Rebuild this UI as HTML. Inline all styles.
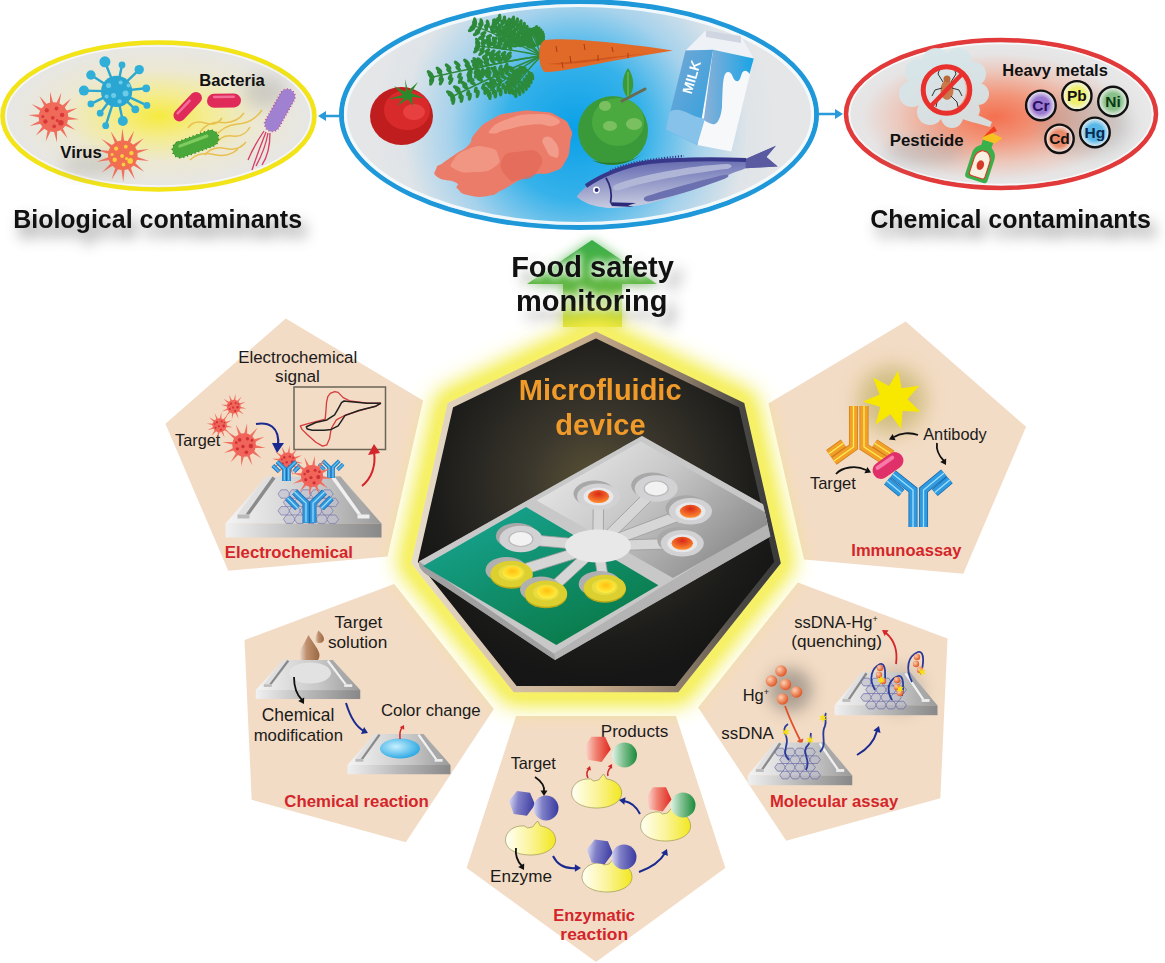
<!DOCTYPE html>
<html><head><meta charset="utf-8">
<style>
html,body{margin:0;padding:0;background:#fff;width:1165px;height:963px;overflow:hidden}
svg{display:block}
text{font-family:"Liberation Sans",sans-serif}
.b{font-weight:bold}
.t{font-size:15.5px;fill:#1a1a1a;text-anchor:middle}
.r{font-size:15px;font-weight:bold;fill:#d4252a;text-anchor:middle}
</style></head><body>
<svg width="1165" height="963" viewBox="0 0 1165 963">
<defs>
 <radialGradient id="gY" cx="0.5" cy="0.5" r="0.5">
  <stop offset="0" stop-color="#f6ea40"/><stop offset="0.3" stop-color="#f4ec90"/><stop offset="0.62" stop-color="#ece8d2"/><stop offset="1" stop-color="#e6e6e6"/>
 </radialGradient>
 <radialGradient id="gB" gradientUnits="userSpaceOnUse" cx="575" cy="130" r="200">
  <stop offset="0" stop-color="#0aa0e8"/><stop offset="0.35" stop-color="#36b2ea"/><stop offset="0.62" stop-color="#a6d2ec"/><stop offset="0.86" stop-color="#dfe4e8"/><stop offset="1" stop-color="#e4e6e8"/></radialGradient>
 <radialGradient id="gR" cx="0.48" cy="0.52" r="0.5">
  <stop offset="0" stop-color="#f47050"/><stop offset="0.3" stop-color="#f29478"/><stop offset="0.62" stop-color="#ecc8bc"/><stop offset="0.85" stop-color="#e6e4e4"/><stop offset="1" stop-color="#e8e8e8"/>
 </radialGradient>
 <radialGradient id="gHept" cx="0.5" cy="0.42" r="0.55">
  <stop offset="0" stop-color="#5a5236"/><stop offset="0.35" stop-color="#3a362c"/><stop offset="0.8" stop-color="#1c1c1a"/><stop offset="1" stop-color="#161616"/>
 </radialGradient>
 <linearGradient id="gArrow" x1="0" y1="0" x2="0" y2="1">
  <stop offset="0" stop-color="#3aae48"/><stop offset="0.55" stop-color="#64b844"/><stop offset="1" stop-color="#dede38"/>
 </linearGradient>
 <linearGradient id="gSlabTop" x1="0" y1="0" x2="1" y2="0">
  <stop offset="0" stop-color="#f4f4f4"/><stop offset="0.6" stop-color="#c8c8c8"/><stop offset="1" stop-color="#9a9a9a"/>
 </linearGradient>
 <linearGradient id="gSlabFront" x1="0" y1="0" x2="1" y2="0">
  <stop offset="0" stop-color="#f0f0f0"/><stop offset="0.5" stop-color="#b8b8b8"/><stop offset="1" stop-color="#888"/>
 </linearGradient>
 <linearGradient id="gEnz" x1="0" y1="0" x2="1" y2="0"><stop offset="0" stop-color="#fffff6"/><stop offset="0.5" stop-color="#fbf49a"/><stop offset="1" stop-color="#f2e820"/></linearGradient>
 <radialGradient id="gBall" cx="0.35" cy="0.35" r="0.65">
  <stop offset="0" stop-color="#ffd0b0"/><stop offset="1" stop-color="#e05a2a"/>
 </radialGradient>
 <linearGradient id="gHexB" x1="0" y1="0" x2="1" y2="0"><stop offset="0" stop-color="#d8d8f4"/><stop offset="0.35" stop-color="#8080c8"/><stop offset="1" stop-color="#3a3aa0"/></linearGradient>
 <linearGradient id="gGrn" x1="0" y1="0" x2="1" y2="0"><stop offset="0" stop-color="#e0f4e8"/><stop offset="0.45" stop-color="#80c090"/><stop offset="1" stop-color="#1a8a3a"/></linearGradient>
 <linearGradient id="gRedP" x1="0" y1="0" x2="1" y2="0"><stop offset="0" stop-color="#fce0d8"/><stop offset="0.45" stop-color="#f08070"/><stop offset="1" stop-color="#e02a20"/></linearGradient>
 <radialGradient id="gBlueE" cx="0.4" cy="0.4" r="0.7"><stop offset="0" stop-color="#c8f0ff"/><stop offset="1" stop-color="#1aa0e0"/></radialGradient>
 <linearGradient id="gChipSideR" x1="0" y1="0" x2="1" y2="0"><stop offset="0" stop-color="#b8b8b8"/><stop offset="1" stop-color="#d8d8d8"/></linearGradient>
 <linearGradient id="gChipGreen" x1="0" y1="0" x2="0.7" y2="1"><stop offset="0" stop-color="#18a898"/><stop offset="1" stop-color="#0a7a48"/></linearGradient>
 <linearGradient id="gChipGray" x1="0" y1="0" x2="1" y2="0.6"><stop offset="0" stop-color="#f0f0f0"/><stop offset="0.5" stop-color="#c8c8c8"/><stop offset="1" stop-color="#8a8a8a"/></linearGradient>
 <radialGradient id="gResR" cx="0.5" cy="0.3" r="0.7"><stop offset="0" stop-color="#d82818"/><stop offset="1" stop-color="#ff9030"/></radialGradient>
 <radialGradient id="gResY" cx="0.5" cy="0.4" r="0.6"><stop offset="0" stop-color="#ffc010"/><stop offset="1" stop-color="#fff040"/></radialGradient>
 <linearGradient id="gHeptBorder" x1="0" y1="0" x2="1" y2="0"><stop offset="0" stop-color="#e6dccc"/><stop offset="0.5" stop-color="#c4a888"/><stop offset="0.75" stop-color="#8a7a68"/><stop offset="0.9" stop-color="#4a4844"/><stop offset="1" stop-color="#3a3a3a"/></linearGradient>
 <clipPath id="clipHept"><polygon points="596,336 740.5,405.6 776.3,562.2 676.2,687.6 515.8,687.6 415.7,562.2 451.5,405.6"/></clipPath>
 <radialGradient id="gm_Cr" cx="0.5" cy="0.5" r="0.5"><stop offset="0" stop-color="#9a78d0"/><stop offset="0.55" stop-color="#9a78d0"/><stop offset="1" stop-color="#f4f4f4"/></radialGradient>
 <radialGradient id="gm_Pb" cx="0.5" cy="0.5" r="0.5"><stop offset="0" stop-color="#f0f070"/><stop offset="0.55" stop-color="#f0f070"/><stop offset="1" stop-color="#f4f4f4"/></radialGradient>
 <radialGradient id="gm_Ni" cx="0.5" cy="0.5" r="0.5"><stop offset="0" stop-color="#8ac08a"/><stop offset="0.55" stop-color="#8ac08a"/><stop offset="1" stop-color="#f4f4f4"/></radialGradient>
 <radialGradient id="gm_Cd" cx="0.5" cy="0.5" r="0.5"><stop offset="0" stop-color="#e88a6a"/><stop offset="0.55" stop-color="#e88a6a"/><stop offset="1" stop-color="#f4f4f4"/></radialGradient>
 <radialGradient id="gm_Hg" cx="0.5" cy="0.5" r="0.5"><stop offset="0" stop-color="#5ab8e8"/><stop offset="0.55" stop-color="#5ab8e8"/><stop offset="1" stop-color="#f4f4f4"/></radialGradient>
 <filter id="blur5" x="-50%" y="-50%" width="200%" height="200%"><feGaussianBlur stdDeviation="5"/></filter>
 <filter id="blur7" x="-50%" y="-50%" width="200%" height="200%"><feGaussianBlur stdDeviation="7"/></filter>
 <filter id="blur10" x="-50%" y="-50%" width="200%" height="200%"><feGaussianBlur stdDeviation="10"/></filter>
 <filter id="blur4" x="-50%" y="-50%" width="200%" height="200%"><feGaussianBlur stdDeviation="4"/></filter>
 <linearGradient id="gMilkL" x1="0" y1="0" x2="1" y2="1"><stop offset="0" stop-color="#7aa8d4"/><stop offset="1" stop-color="#2aa0e0"/></linearGradient>
 <linearGradient id="gMilkR" x1="0" y1="0" x2="1" y2="0"><stop offset="0" stop-color="#8ab0d8"/><stop offset="1" stop-color="#18a4e6"/></linearGradient>
 <linearGradient id="gFish" x1="0" y1="0" x2="0.15" y2="1"><stop offset="0" stop-color="#3e3e90"/><stop offset="0.45" stop-color="#7a80bc"/><stop offset="1" stop-color="#c8cce0"/></linearGradient>
 <linearGradient id="gDrop" x1="0" y1="0" x2="1" y2="0"><stop offset="0" stop-color="#ecdccc"/><stop offset="0.35" stop-color="#c09070"/><stop offset="1" stop-color="#9a6840"/></linearGradient>
 <filter id="blur6" x="-50%" y="-50%" width="200%" height="200%"><feGaussianBlur stdDeviation="6"/></filter>
 <filter id="blur12" x="-50%" y="-50%" width="200%" height="200%"><feGaussianBlur stdDeviation="12"/></filter>
 <filter id="blur3" x="-50%" y="-50%" width="200%" height="200%"><feGaussianBlur stdDeviation="3"/></filter>
 <filter id="blur8" x="-50%" y="-50%" width="200%" height="200%"><feGaussianBlur stdDeviation="8"/></filter>
 <polygon id="pent" points="0,-136 129.34,-42.03 79.94,110.03 -79.94,110.03 -129.34,-42.03"/>
 <!-- red spiky virus, body r=10 -->
 <g id="vir">
  <path fill="#ef7260" d="M9.0,-0.2 L19.3,2.7 L8.6,2.7ZM7.9,4.3 L15.4,12.0 L6.1,6.6ZM4.7,7.7 L7.3,18.1 L2.0,8.8ZM0.2,9.0 L-2.7,19.3 L-2.7,8.6ZM-4.3,7.9 L-12.0,15.4 L-6.6,6.1ZM-7.7,4.7 L-18.1,7.3 L-8.8,2.0ZM-9.0,0.2 L-19.3,-2.7 L-8.6,-2.7ZM-7.9,-4.3 L-15.4,-12.0 L-6.1,-6.6ZM-4.7,-7.7 L-7.3,-18.1 L-2.0,-8.8ZM-0.2,-9.0 L2.7,-19.3 L2.7,-8.6ZM4.3,-7.9 L12.0,-15.4 L6.6,-6.1ZM7.7,-4.7 L18.1,-7.3 L8.8,-2.0Z"/>
  <circle r="10.5" fill="#f0645a"/>
  <g fill="#cf3236"><circle cx="-4" cy="-4.5" r="1.7"/><circle cx="3" cy="-5.5" r="1.5"/><circle cx="6" cy="1" r="2"/><circle cx="-1" cy="1.5" r="1.6"/><circle cx="-6" cy="3.5" r="1.5"/><circle cx="2" cy="6.5" r="1.6"/><circle cx="-7" cy="-2" r="1.2"/><circle cx="7" cy="-4" r="1.2"/></g>
 </g>
 <!-- antibody Y, stem bottom at 0,0 -->
 <g id="ab">
  <g stroke-linecap="butt" fill="none">
   <path d="M-3.5,0 V-20 L-15,-31 M3.5,0 V-20 L15,-31" stroke="#1a6ab0" stroke-width="7"/>
   <path d="M-3.5,0 V-20 L-15,-31 M3.5,0 V-20 L15,-31" stroke="#2f9ae0" stroke-width="5.5"/>
   <path d="M-22,-25 L-12,-15 M22,-25 L12,-15" stroke="#1a6ab0" stroke-width="6.5"/>
   <path d="M-22,-25 L-12,-15 M22,-25 L12,-15" stroke="#2f9ae0" stroke-width="5"/>
   <path d="M-3.5,-1 V-20 L-15,-31 M3.5,-1 V-20 L15,-31 M-22,-25 L-12,-15 M22,-25 L12,-15" stroke="#9adcf8" stroke-width="1.2"/>
  </g>
 </g>
 <g id="abO">
  <g stroke-linecap="butt" fill="none">
   <path d="M-3.5,0 V-20 L-15,-31 M3.5,0 V-20 L15,-31" stroke="#c8701a" stroke-width="7"/>
   <path d="M-3.5,0 V-20 L-15,-31 M3.5,0 V-20 L15,-31" stroke="#f0a030" stroke-width="5.5"/>
   <path d="M-22,-25 L-12,-15 M22,-25 L12,-15" stroke="#c8701a" stroke-width="6.5"/>
   <path d="M-22,-25 L-12,-15 M22,-25 L12,-15" stroke="#f0a030" stroke-width="5"/>
   <path d="M-3.5,-1 V-20 L-15,-31 M3.5,-1 V-20 L15,-31 M-22,-25 L-12,-15 M22,-25 L12,-15" stroke="#fff060" stroke-width="1.3"/>
  </g>
 </g>
 <!-- slab: width 155 bottom, top face -->
 <g id="slab">
  <polygon points="-37,0 37,0 78,47 -78,47" fill="url(#gSlabTop)"/>
  <rect x="-78" y="47" width="156" height="14" fill="url(#gSlabFront)"/>
  <polygon points="-37,0 -31,0 -58,38 -66,38" fill="#e0e0e0"/>
  <polygon points="-31,0 -28,2 -54,38 -58,38" fill="#8a8a8a"/>
  <rect x="-66" y="38" width="12" height="4" fill="#bbb"/>
  <polygon points="31,0 37,0 66,38 58,38" fill="#a8a8a8"/>
  <polygon points="28,2 31,0 58,38 54,38" fill="#f0f0f0"/>
  <rect x="54" y="38" width="12" height="4" fill="#eee"/>
 </g>
 <!-- enzyme -->
 <path id="enz" d="M-6,-14 C-16,-15 -25,-9 -25,0 C-25,9 -14,15 0,15 C14,15 25,9 25,0 C25,-8 18,-13 10,-14 L7,-19 L2,-13 L-3,-12 Z" fill="url(#gEnz)" stroke="#8a8a40" stroke-width="0.6"/>
 <polygon id="hexB" points="-12,-2 -6,-12 6,-12 12,-2 6,9 -6,9" fill="url(#gHexB)" transform="rotate(8)"/>
 <polygon id="hexR" points="-11,-3 -5,-12 7,-12 12,-1 4,10 -8,8" fill="url(#gRedP)"/>
 <circle id="cirB" r="12.5" fill="url(#gHexB)"/>
 <circle id="cirG" r="12.5" fill="url(#gGrn)"/>
 <marker id="mk" viewBox="0 0 10 10" refX="5" refY="5" markerWidth="4" markerHeight="4" orient="auto"><path d="M0,0 L10,5 L0,10 L3,5 Z" fill="context-stroke"/></marker>
</defs>

<!-- ===== TOP ELLIPSES ===== -->
<g id="top">
 <ellipse cx="158.5" cy="116" rx="156" ry="73.5" fill="url(#gY)" stroke="#f2e416" stroke-width="4.5"/>
 <ellipse cx="158.5" cy="116" rx="152.5" ry="70" fill="none" stroke="#fff" stroke-width="1.5" opacity="0.7"/>
 <ellipse cx="579" cy="114.5" rx="237.5" ry="113" fill="url(#gB)" stroke="#1f98da" stroke-width="5"/>
 <ellipse cx="1001" cy="114" rx="155" ry="74" fill="url(#gR)" stroke="#e23a3a" stroke-width="4.5"/>
 <ellipse cx="1001" cy="114" rx="151.5" ry="70.5" fill="none" stroke="#fff" stroke-width="1.5" opacity="0.7"/>
 <g stroke="#2a9ad8" stroke-width="2.5" fill="#2a9ad8">
  <line x1="340" y1="116" x2="322" y2="116"/>
  <polygon points="318,116 326,111 326,121" stroke="none"/>
  <line x1="819" y1="114" x2="838" y2="114"/>
  <polygon points="843,114 835,109 835,119" stroke="none"/>
 </g>
 <g filter="url(#blur7)" opacity="0.8" fill="#7a7a7a">
  <text x="163" y="229" class="b" font-size="25" text-anchor="middle" transform="translate(0,-25) scale(1,1.15)">Biological contaminants</text>
  <text x="1016" y="229" class="b" font-size="25" text-anchor="middle" transform="translate(0,-25) scale(1,1.15)">Chemical contaminants</text>
 </g>
 <text x="157.6" y="228" class="b" font-size="25" text-anchor="middle" fill="#111">Biological contaminants</text>
 <text x="1010.5" y="228" class="b" font-size="25" text-anchor="middle" fill="#111">Chemical contaminants</text>
</g>

<!-- TOPLEFT CONTENT -->
<g id="bio"><ellipse cx="95" cy="165" rx="35" ry="10" fill="#999" opacity="0.35" filter="url(#blur8)"/><ellipse cx="265" cy="92" rx="22" ry="16" fill="#999" opacity="0.35" filter="url(#blur8)"/><g transform="translate(53.5,117.1)"><path d="M13.3,-0.6 L25.4,2.2 L13.0,2.9ZM12.2,5.3 L21.9,13.0 L10.5,8.2ZM8.7,10.0 L14.1,21.2 L5.9,12.0ZM3.5,12.8 L3.5,25.3 L0.1,13.3ZM-2.4,13.1 L-7.8,24.3 L-5.7,12.0ZM-7.9,10.8 L-17.6,18.5 L-10.4,8.4ZM-11.7,6.3 L-23.9,9.0 L-13.0,3.1ZM-13.3,0.6 L-25.4,-2.2 L-13.0,-2.9ZM-12.2,-5.3 L-21.9,-13.0 L-10.5,-8.2ZM-8.7,-10.0 L-14.1,-21.2 L-5.9,-12.0ZM-3.5,-12.8 L-3.5,-25.3 L-0.1,-13.3ZM2.4,-13.1 L7.8,-24.3 L5.7,-12.0ZM7.9,-10.8 L17.6,-18.5 L10.4,-8.4ZM11.7,-6.3 L23.9,-9.0 L13.0,-3.1Z" fill="#f07060"/><circle r="14.8" fill="#f06a5a"/><circle cx="-6.7" cy="-6.7" r="2.1" fill="#d83838"/><circle cx="3.0" cy="-8.6" r="1.9" fill="#d83838"/><circle cx="8.6" cy="-2.2" r="2.2" fill="#d83838"/><circle cx="7.4" cy="5.6" r="2.8" fill="#d83838"/><circle cx="-0.7" cy="0.7" r="1.9" fill="#d83838"/><circle cx="-8.1" cy="4.4" r="2.2" fill="#d83838"/><circle cx="0.7" cy="9.2" r="1.9" fill="#d83838"/><circle cx="3.7" cy="3.3" r="1.5" fill="#d83838"/><circle cx="-10.7" cy="-0.7" r="1.5" fill="#d83838"/></g><g transform="translate(122.8,155.3)"><path d="M13.3,1.1 L26.4,5.6 L12.6,4.4ZM11.5,6.7 L21.4,16.5 L9.4,9.4ZM7.5,11.0 L12.1,24.1 L4.4,12.6ZM1.9,13.2 L0.4,27.0 L-1.5,13.2ZM-4.0,12.7 L-11.3,24.5 L-7.1,11.3ZM-9.1,9.7 L-20.9,17.1 L-11.3,7.1ZM-12.4,4.8 L-26.2,6.4 L-13.2,1.5ZM-13.3,-1.1 L-26.4,-5.6 L-12.6,-4.4ZM-11.5,-6.7 L-21.4,-16.5 L-9.4,-9.4ZM-7.5,-11.0 L-12.1,-24.1 L-4.4,-12.6ZM-1.9,-13.2 L-0.4,-27.0 L1.5,-13.2ZM4.0,-12.7 L11.3,-24.5 L7.1,-11.3ZM9.1,-9.7 L20.9,-17.1 L11.3,-7.1ZM12.4,-4.8 L26.2,-6.4 L13.2,-1.5Z" fill="#f07060"/><circle r="14.8" fill="#f26e50"/><circle cx="-6.7" cy="-6.7" r="2.1" fill="#f8d040"/><circle cx="3.0" cy="-8.6" r="1.9" fill="#f8d040"/><circle cx="8.6" cy="-2.2" r="2.2" fill="#f8d040"/><circle cx="7.4" cy="5.6" r="2.8" fill="#f8d040"/><circle cx="-0.7" cy="0.7" r="1.9" fill="#f8d040"/><circle cx="-8.1" cy="4.4" r="2.2" fill="#f8d040"/><circle cx="0.7" cy="9.2" r="1.9" fill="#f8d040"/><circle cx="3.7" cy="3.3" r="1.5" fill="#f8d040"/><circle cx="-10.7" cy="-0.7" r="1.5" fill="#f8d040"/></g><line x1="116.6" y1="91.4" x2="104.9" y2="61.8" stroke="#2aa8d0" stroke-width="2.4"/><circle cx="104.9" cy="61.8" r="5.5" fill="#30b0d8"/><line x1="116.6" y1="91.4" x2="122.0" y2="64.9" stroke="#2aa8d0" stroke-width="2.4"/><circle cx="122.0" cy="64.9" r="3.4" fill="#30b0d8"/><line x1="116.6" y1="91.4" x2="139.2" y2="69.6" stroke="#2aa8d0" stroke-width="2.4"/><circle cx="139.2" cy="69.6" r="4.7" fill="#30b0d8"/><line x1="116.6" y1="91.4" x2="90.9" y2="75.0" stroke="#2aa8d0" stroke-width="2.4"/><circle cx="90.9" cy="75.0" r="4.7" fill="#30b0d8"/><line x1="116.6" y1="91.4" x2="146.2" y2="88.3" stroke="#2aa8d0" stroke-width="2.4"/><circle cx="146.2" cy="88.3" r="3.9" fill="#30b0d8"/><line x1="116.6" y1="91.4" x2="83.9" y2="90.6" stroke="#2aa8d0" stroke-width="2.4"/><circle cx="83.9" cy="90.6" r="5.0" fill="#30b0d8"/><line x1="116.6" y1="91.4" x2="146.9" y2="105.4" stroke="#2aa8d0" stroke-width="2.4"/><circle cx="146.9" cy="105.4" r="3.4" fill="#30b0d8"/><line x1="116.6" y1="91.4" x2="90.9" y2="103.9" stroke="#2aa8d0" stroke-width="2.4"/><circle cx="90.9" cy="103.9" r="3.4" fill="#30b0d8"/><line x1="116.6" y1="91.4" x2="135.3" y2="109.3" stroke="#2aa8d0" stroke-width="2.4"/><circle cx="135.3" cy="109.3" r="3.9" fill="#30b0d8"/><line x1="116.6" y1="91.4" x2="100.2" y2="113.2" stroke="#2aa8d0" stroke-width="2.4"/><circle cx="100.2" cy="113.2" r="3.4" fill="#30b0d8"/><line x1="116.6" y1="91.4" x2="122.8" y2="121.0" stroke="#2aa8d0" stroke-width="2.4"/><circle cx="122.8" cy="121.0" r="5.0" fill="#30b0d8"/><line x1="116.6" y1="91.4" x2="105.7" y2="125.7" stroke="#2aa8d0" stroke-width="2.4"/><circle cx="105.7" cy="125.7" r="3.4" fill="#30b0d8"/><circle cx="116.6" cy="91.4" r="15.6" fill="#2aa6d2"/><circle cx="108.6" cy="85.4" r="2.5" fill="#6ccce8"/><circle cx="120.6" cy="82.4" r="2" fill="#6ccce8"/><circle cx="125.6" cy="93.4" r="3" fill="#6ccce8"/><circle cx="113.6" cy="95.4" r="2.5" fill="#6ccce8"/><circle cx="106.6" cy="96.4" r="2" fill="#6ccce8"/><circle cx="119.6" cy="101.4" r="2.2" fill="#6ccce8"/><circle cx="128.6" cy="85.4" r="2" fill="#6ccce8"/><text x="81.1" y="157.5" style="font-size:16.72px" class="b" text-anchor="middle" fill="#111">Virus</text><text x="232.0" y="86.3" style="font-size:16.59px" class="b" text-anchor="middle" fill="#111">Bacteria</text><g transform="translate(187.7,106.7) rotate(-46.6)"><rect x="-18" y="-6" width="36" height="12" rx="6" fill="#e02a5a"/><rect x="-13" y="-4" width="20" height="2.5" rx="1.2" fill="#f07098"/></g><g transform="translate(224,100.6) rotate(-1)"><rect x="-17" y="-7" width="34" height="14" rx="7" fill="#e02a5a"/><rect x="-11" y="-5" width="22" height="2.5" rx="1.2" fill="#f07098"/></g><g fill="none" stroke="#e8c050" stroke-width="1.5"><path d="M188,128 Q193.5,119.5 205.0,123.0 T222,118" /><path d="M200,132 Q208.0,121.25 222.0,122.5 T244,113" /><path d="M214,138 Q223.0,125.0 238.0,124.0 T262,110" /><path d="M215,145 Q220.75,134.5 232.5,136.0 T250,127" /><path d="M205,155 Q212.25,145.75 225.5,148.5 T246,142" /><path d="M190,160 Q199.0,151.25 214.0,154.5 T238,149" /></g><g transform="translate(195.5,144) rotate(-20.5)"><rect x="-24" y="-8" width="48" height="16" rx="8" fill="#3a9a30" stroke="#2a7a20" stroke-width="2" stroke-dasharray="1.2 2.8"/><rect x="-24" y="-8" width="48" height="16" rx="8" fill="#4aa83a"/><rect x="-17" y="-5" width="32" height="3" rx="1.5" fill="#80cc60"/></g><g fill="none" stroke="#d83a6a" stroke-width="1.3"><path d="M266,132 C262,142 258,152 252,170"/><path d="M268,133 C266,145 262,155 256,166"/><path d="M270,133 C270,146 268,156 262,165"/><path d="M264,131 C258,140 252,150 248,160"/></g><g transform="translate(279.8,110.3) rotate(-60.8)"><rect x="-23" y="-7.5" width="46" height="15" rx="7.5" fill="#9a7ad0" stroke="#c84a8a" stroke-width="2" stroke-dasharray="1 2.2"/><rect x="-23" y="-7" width="46" height="14" rx="7" fill="#a080d0"/></g></g>
<!-- TOPCENTER CONTENT -->
<g id="food"><ellipse cx="579" cy="114.5" rx="233.5" ry="109" fill="none" stroke="#f4fafc" stroke-width="3.2" opacity="0.95"/><ellipse cx="401.5" cy="116" rx="31.5" ry="29" fill="#c01e1e"/><ellipse cx="407" cy="110" rx="23" ry="20" fill="#d82a2a"/><ellipse cx="414" cy="112" rx="11" ry="8" fill="#e84040"/><path d="M405,79 L406,92 L394,86 L403,95 L388,99 L404,98 L397,106 L408,99 L413,106 L412,97 L424,98 L411,93 L418,82 L408,91 Z" fill="#2a8a2a"/><path d="M541.4,55.7 Q507.7,38.7 474,25.6" fill="none" stroke="#2e8a3a" stroke-width="1.5"/><path d="M541.4,55.7 Q518.0,36.2 494.5,20.8" fill="none" stroke="#2e8a3a" stroke-width="1.5"/><path d="M541.4,55.7 Q535.7,40.9 530,30" fill="none" stroke="#2e8a3a" stroke-width="1.5"/><path d="M541.4,55.7 Q486.7,64.5 432,77.3" fill="none" stroke="#2e8a3a" stroke-width="1.5"/><path d="M541.4,55.7 Q496.9,74.1 452.5,96.5" fill="none" stroke="#2e8a3a" stroke-width="1.5"/><path d="M541.4,55.7 Q525.7,71.8 510,92" fill="none" stroke="#2e8a3a" stroke-width="1.5"/><path d="M541.4,55.7 Q509.5,48.9 477.7,46" fill="none" stroke="#2e8a3a" stroke-width="1.5"/><path d="M541.4,55.7 Q524.7,36.9 508,22" fill="none" stroke="#2e8a3a" stroke-width="1.5"/><path d="M541.4,55.7 Q505.7,60.9 470,70" fill="none" stroke="#2e8a3a" stroke-width="1.5"/><path d="M541.4,55.7 Q514.7,71.8 488,92" fill="none" stroke="#2e8a3a" stroke-width="1.5"/><g fill="#2c8a3a"><ellipse cx="506.4" cy="43.6" rx="3.3" ry="1.9" transform="rotate(-211 506.4 43.6)"/><ellipse cx="504.8" cy="47.2" rx="4.2" ry="1.9" transform="rotate(-211 504.8 47.2)"/><ellipse cx="509.0" cy="37.7" rx="3.3" ry="1.9" transform="rotate(-101 509.0 37.7)"/><ellipse cx="510.6" cy="34.1" rx="4.2" ry="1.9" transform="rotate(-101 510.6 34.1)"/><ellipse cx="500.5" cy="41.4" rx="3.3" ry="1.9" transform="rotate(-211 500.5 41.4)"/><ellipse cx="498.6" cy="45.5" rx="4.2" ry="1.9" transform="rotate(-211 498.6 45.5)"/><ellipse cx="503.5" cy="34.7" rx="3.3" ry="1.9" transform="rotate(-101 503.5 34.7)"/><ellipse cx="505.3" cy="30.7" rx="4.2" ry="1.9" transform="rotate(-101 505.3 30.7)"/><ellipse cx="494.7" cy="39.0" rx="3.3" ry="1.9" transform="rotate(-211 494.7 39.0)"/><ellipse cx="492.8" cy="43.3" rx="4.2" ry="1.9" transform="rotate(-211 492.8 43.3)"/><ellipse cx="497.8" cy="32.0" rx="3.3" ry="1.9" transform="rotate(-101 497.8 32.0)"/><ellipse cx="499.7" cy="27.8" rx="4.2" ry="1.9" transform="rotate(-101 499.7 27.8)"/><ellipse cx="489.0" cy="36.4" rx="3.3" ry="1.9" transform="rotate(-211 489.0 36.4)"/><ellipse cx="487.2" cy="40.5" rx="4.2" ry="1.9" transform="rotate(-211 487.2 40.5)"/><ellipse cx="492.0" cy="29.6" rx="3.3" ry="1.9" transform="rotate(-101 492.0 29.6)"/><ellipse cx="493.9" cy="25.5" rx="4.2" ry="1.9" transform="rotate(-101 493.9 25.5)"/><ellipse cx="483.4" cy="33.4" rx="3.3" ry="1.9" transform="rotate(-211 483.4 33.4)"/><ellipse cx="481.8" cy="37.1" rx="4.2" ry="1.9" transform="rotate(-211 481.8 37.1)"/><ellipse cx="486.1" cy="27.4" rx="3.3" ry="1.9" transform="rotate(-101 486.1 27.4)"/><ellipse cx="487.8" cy="23.7" rx="4.2" ry="1.9" transform="rotate(-101 487.8 23.7)"/><ellipse cx="478.0" cy="30.3" rx="3.3" ry="1.9" transform="rotate(-211 478.0 30.3)"/><ellipse cx="476.6" cy="33.3" rx="4.2" ry="1.9" transform="rotate(-211 476.6 33.3)"/><ellipse cx="480.2" cy="25.4" rx="3.3" ry="1.9" transform="rotate(-101 480.2 25.4)"/><ellipse cx="481.5" cy="22.4" rx="4.2" ry="1.9" transform="rotate(-101 481.5 22.4)"/><ellipse cx="472.5" cy="27.1" rx="3.3" ry="1.9" transform="rotate(-211 472.5 27.1)"/><ellipse cx="471.6" cy="29.3" rx="4.2" ry="1.9" transform="rotate(-211 471.6 29.3)"/><ellipse cx="474.1" cy="23.5" rx="3.3" ry="1.9" transform="rotate(-101 474.1 23.5)"/><ellipse cx="475.1" cy="21.3" rx="4.2" ry="1.9" transform="rotate(-101 475.1 21.3)"/><circle cx="474.0" cy="25.6" r="2.5"/><ellipse cx="518.6" cy="42.3" rx="3.3" ry="1.9" transform="rotate(-198 518.6 42.3)"/><ellipse cx="516.5" cy="45.2" rx="4.2" ry="1.9" transform="rotate(-198 516.5 45.2)"/><ellipse cx="522.0" cy="37.7" rx="3.3" ry="1.9" transform="rotate(-88 522.0 37.7)"/><ellipse cx="524.1" cy="34.8" rx="4.2" ry="1.9" transform="rotate(-88 524.1 34.8)"/><ellipse cx="514.2" cy="39.8" rx="3.3" ry="1.9" transform="rotate(-198 514.2 39.8)"/><ellipse cx="511.7" cy="43.2" rx="4.2" ry="1.9" transform="rotate(-198 511.7 43.2)"/><ellipse cx="518.4" cy="34.3" rx="3.3" ry="1.9" transform="rotate(-88 518.4 34.3)"/><ellipse cx="520.9" cy="30.9" rx="4.2" ry="1.9" transform="rotate(-88 520.9 30.9)"/><ellipse cx="510.1" cy="37.1" rx="3.3" ry="1.9" transform="rotate(-198 510.1 37.1)"/><ellipse cx="507.3" cy="40.8" rx="4.2" ry="1.9" transform="rotate(-198 507.3 40.8)"/><ellipse cx="514.6" cy="31.0" rx="3.3" ry="1.9" transform="rotate(-88 514.6 31.0)"/><ellipse cx="517.3" cy="27.3" rx="4.2" ry="1.9" transform="rotate(-88 517.3 27.3)"/><ellipse cx="506.1" cy="34.1" rx="3.3" ry="1.9" transform="rotate(-198 506.1 34.1)"/><ellipse cx="503.3" cy="37.9" rx="4.2" ry="1.9" transform="rotate(-198 503.3 37.9)"/><ellipse cx="510.6" cy="28.0" rx="3.3" ry="1.9" transform="rotate(-88 510.6 28.0)"/><ellipse cx="513.4" cy="24.3" rx="4.2" ry="1.9" transform="rotate(-88 513.4 24.3)"/><ellipse cx="502.2" cy="31.0" rx="3.3" ry="1.9" transform="rotate(-198 502.2 31.0)"/><ellipse cx="499.6" cy="34.5" rx="4.2" ry="1.9" transform="rotate(-198 499.6 34.5)"/><ellipse cx="506.5" cy="25.3" rx="3.3" ry="1.9" transform="rotate(-88 506.5 25.3)"/><ellipse cx="509.1" cy="21.8" rx="4.2" ry="1.9" transform="rotate(-88 509.1 21.8)"/><ellipse cx="498.5" cy="27.6" rx="3.3" ry="1.9" transform="rotate(-198 498.5 27.6)"/><ellipse cx="496.3" cy="30.7" rx="4.2" ry="1.9" transform="rotate(-198 496.3 30.7)"/><ellipse cx="502.2" cy="22.7" rx="3.3" ry="1.9" transform="rotate(-88 502.2 22.7)"/><ellipse cx="504.4" cy="19.7" rx="4.2" ry="1.9" transform="rotate(-88 504.4 19.7)"/><ellipse cx="494.9" cy="24.1" rx="3.3" ry="1.9" transform="rotate(-198 494.9 24.1)"/><ellipse cx="493.2" cy="26.5" rx="4.2" ry="1.9" transform="rotate(-198 493.2 26.5)"/><ellipse cx="497.8" cy="20.3" rx="3.3" ry="1.9" transform="rotate(-88 497.8 20.3)"/><ellipse cx="499.6" cy="17.9" rx="4.2" ry="1.9" transform="rotate(-88 499.6 17.9)"/><circle cx="494.5" cy="20.8" r="2.5"/><ellipse cx="533.6" cy="45.3" rx="3.3" ry="1.9" transform="rotate(-169 533.6 45.3)"/><ellipse cx="530.4" cy="46.7" rx="4.2" ry="1.9" transform="rotate(-169 530.4 46.7)"/><ellipse cx="538.9" cy="43.0" rx="3.3" ry="1.9" transform="rotate(-59 538.9 43.0)"/><ellipse cx="542.2" cy="41.5" rx="4.2" ry="1.9" transform="rotate(-59 542.2 41.5)"/><ellipse cx="532.1" cy="43.3" rx="3.3" ry="1.9" transform="rotate(-169 532.1 43.3)"/><ellipse cx="528.3" cy="45.1" rx="4.2" ry="1.9" transform="rotate(-169 528.3 45.1)"/><ellipse cx="538.5" cy="40.6" rx="3.3" ry="1.9" transform="rotate(-59 538.5 40.6)"/><ellipse cx="542.3" cy="38.8" rx="4.2" ry="1.9" transform="rotate(-59 542.3 38.8)"/><ellipse cx="530.9" cy="41.3" rx="3.3" ry="1.9" transform="rotate(-169 530.9 41.3)"/><ellipse cx="526.7" cy="43.2" rx="4.2" ry="1.9" transform="rotate(-169 526.7 43.2)"/><ellipse cx="537.8" cy="38.2" rx="3.3" ry="1.9" transform="rotate(-59 537.8 38.2)"/><ellipse cx="542.0" cy="36.4" rx="4.2" ry="1.9" transform="rotate(-59 542.0 36.4)"/><ellipse cx="529.9" cy="39.1" rx="3.3" ry="1.9" transform="rotate(-169 529.9 39.1)"/><ellipse cx="525.6" cy="41.0" rx="4.2" ry="1.9" transform="rotate(-169 525.6 41.0)"/><ellipse cx="536.8" cy="36.0" rx="3.3" ry="1.9" transform="rotate(-59 536.8 36.0)"/><ellipse cx="541.1" cy="34.2" rx="4.2" ry="1.9" transform="rotate(-59 541.1 34.2)"/><ellipse cx="529.1" cy="36.8" rx="3.3" ry="1.9" transform="rotate(-169 529.1 36.8)"/><ellipse cx="525.1" cy="38.6" rx="4.2" ry="1.9" transform="rotate(-169 525.1 38.6)"/><ellipse cx="535.7" cy="33.9" rx="3.3" ry="1.9" transform="rotate(-59 535.7 33.9)"/><ellipse cx="539.6" cy="32.2" rx="4.2" ry="1.9" transform="rotate(-59 539.6 32.2)"/><ellipse cx="528.6" cy="34.5" rx="3.3" ry="1.9" transform="rotate(-169 528.6 34.5)"/><ellipse cx="525.2" cy="36.0" rx="4.2" ry="1.9" transform="rotate(-169 525.2 36.0)"/><ellipse cx="534.2" cy="32.0" rx="3.3" ry="1.9" transform="rotate(-59 534.2 32.0)"/><ellipse cx="537.7" cy="30.4" rx="4.2" ry="1.9" transform="rotate(-59 537.7 30.4)"/><ellipse cx="528.3" cy="32.0" rx="3.3" ry="1.9" transform="rotate(-169 528.3 32.0)"/><ellipse cx="525.6" cy="33.2" rx="4.2" ry="1.9" transform="rotate(-169 525.6 33.2)"/><ellipse cx="532.7" cy="30.1" rx="3.3" ry="1.9" transform="rotate(-59 532.7 30.1)"/><ellipse cx="535.3" cy="28.9" rx="4.2" ry="1.9" transform="rotate(-59 535.3 28.9)"/><circle cx="530.0" cy="30.0" r="2.5"/><ellipse cx="487.3" cy="69.7" rx="3.3" ry="1.9" transform="rotate(114 487.3 69.7)"/><ellipse cx="488.1" cy="73.6" rx="4.2" ry="1.9" transform="rotate(114 488.1 73.6)"/><ellipse cx="486.1" cy="63.3" rx="3.3" ry="1.9" transform="rotate(224 486.1 63.3)"/><ellipse cx="485.3" cy="59.4" rx="4.2" ry="1.9" transform="rotate(224 485.3 59.4)"/><ellipse cx="478.1" cy="71.9" rx="3.3" ry="1.9" transform="rotate(114 478.1 71.9)"/><ellipse cx="479.0" cy="76.3" rx="4.2" ry="1.9" transform="rotate(114 479.0 76.3)"/><ellipse cx="476.7" cy="64.7" rx="3.3" ry="1.9" transform="rotate(224 476.7 64.7)"/><ellipse cx="475.8" cy="60.3" rx="4.2" ry="1.9" transform="rotate(224 475.8 60.3)"/><ellipse cx="468.8" cy="73.9" rx="3.3" ry="1.9" transform="rotate(114 468.8 73.9)"/><ellipse cx="469.7" cy="78.5" rx="4.2" ry="1.9" transform="rotate(114 469.7 78.5)"/><ellipse cx="467.4" cy="66.4" rx="3.3" ry="1.9" transform="rotate(224 467.4 66.4)"/><ellipse cx="466.5" cy="61.8" rx="4.2" ry="1.9" transform="rotate(224 466.5 61.8)"/><ellipse cx="459.5" cy="75.6" rx="3.3" ry="1.9" transform="rotate(114 459.5 75.6)"/><ellipse cx="460.4" cy="80.1" rx="4.2" ry="1.9" transform="rotate(114 460.4 80.1)"/><ellipse cx="458.1" cy="68.4" rx="3.3" ry="1.9" transform="rotate(224 458.1 68.4)"/><ellipse cx="457.2" cy="63.9" rx="4.2" ry="1.9" transform="rotate(224 457.2 63.9)"/><ellipse cx="450.1" cy="77.1" rx="3.3" ry="1.9" transform="rotate(114 450.1 77.1)"/><ellipse cx="450.9" cy="81.1" rx="4.2" ry="1.9" transform="rotate(114 450.9 81.1)"/><ellipse cx="448.9" cy="70.6" rx="3.3" ry="1.9" transform="rotate(224 448.9 70.6)"/><ellipse cx="448.1" cy="66.6" rx="4.2" ry="1.9" transform="rotate(224 448.1 66.6)"/><ellipse cx="440.7" cy="78.3" rx="3.3" ry="1.9" transform="rotate(114 440.7 78.3)"/><ellipse cx="441.4" cy="81.6" rx="4.2" ry="1.9" transform="rotate(114 441.4 81.6)"/><ellipse cx="439.7" cy="73.0" rx="3.3" ry="1.9" transform="rotate(224 439.7 73.0)"/><ellipse cx="439.0" cy="69.8" rx="4.2" ry="1.9" transform="rotate(224 439.0 69.8)"/><ellipse cx="431.3" cy="79.4" rx="3.3" ry="1.9" transform="rotate(114 431.3 79.4)"/><ellipse cx="431.7" cy="81.8" rx="4.2" ry="1.9" transform="rotate(114 431.7 81.8)"/><ellipse cx="430.5" cy="75.6" rx="3.3" ry="1.9" transform="rotate(224 430.5 75.6)"/><ellipse cx="430.1" cy="73.3" rx="4.2" ry="1.9" transform="rotate(224 430.1 73.3)"/><circle cx="432.0" cy="77.3" r="2.5"/><ellipse cx="498.3" cy="79.1" rx="3.3" ry="1.9" transform="rotate(100 498.3 79.1)"/><ellipse cx="500.0" cy="82.7" rx="4.2" ry="1.9" transform="rotate(100 500.0 82.7)"/><ellipse cx="495.6" cy="73.1" rx="3.3" ry="1.9" transform="rotate(210 495.6 73.1)"/><ellipse cx="493.9" cy="69.5" rx="4.2" ry="1.9" transform="rotate(210 493.9 69.5)"/><ellipse cx="490.9" cy="82.9" rx="3.3" ry="1.9" transform="rotate(100 490.9 82.9)"/><ellipse cx="492.8" cy="87.0" rx="4.2" ry="1.9" transform="rotate(100 492.8 87.0)"/><ellipse cx="487.9" cy="76.2" rx="3.3" ry="1.9" transform="rotate(210 487.9 76.2)"/><ellipse cx="486.0" cy="72.2" rx="4.2" ry="1.9" transform="rotate(210 486.0 72.2)"/><ellipse cx="483.4" cy="86.5" rx="3.3" ry="1.9" transform="rotate(100 483.4 86.5)"/><ellipse cx="485.4" cy="90.8" rx="4.2" ry="1.9" transform="rotate(100 485.4 90.8)"/><ellipse cx="480.2" cy="79.6" rx="3.3" ry="1.9" transform="rotate(210 480.2 79.6)"/><ellipse cx="478.3" cy="75.3" rx="4.2" ry="1.9" transform="rotate(210 478.3 75.3)"/><ellipse cx="475.8" cy="89.9" rx="3.3" ry="1.9" transform="rotate(100 475.8 89.9)"/><ellipse cx="477.7" cy="94.0" rx="4.2" ry="1.9" transform="rotate(100 477.7 94.0)"/><ellipse cx="472.7" cy="83.1" rx="3.3" ry="1.9" transform="rotate(210 472.7 83.1)"/><ellipse cx="470.9" cy="79.0" rx="4.2" ry="1.9" transform="rotate(210 470.9 79.0)"/><ellipse cx="468.1" cy="93.0" rx="3.3" ry="1.9" transform="rotate(100 468.1 93.0)"/><ellipse cx="469.8" cy="96.7" rx="4.2" ry="1.9" transform="rotate(100 469.8 96.7)"/><ellipse cx="465.3" cy="87.0" rx="3.3" ry="1.9" transform="rotate(210 465.3 87.0)"/><ellipse cx="463.7" cy="83.3" rx="4.2" ry="1.9" transform="rotate(210 463.7 83.3)"/><ellipse cx="460.3" cy="95.9" rx="3.3" ry="1.9" transform="rotate(100 460.3 95.9)"/><ellipse cx="461.7" cy="98.9" rx="4.2" ry="1.9" transform="rotate(100 461.7 98.9)"/><ellipse cx="458.0" cy="91.0" rx="3.3" ry="1.9" transform="rotate(210 458.0 91.0)"/><ellipse cx="456.7" cy="88.0" rx="4.2" ry="1.9" transform="rotate(210 456.7 88.0)"/><ellipse cx="452.4" cy="98.7" rx="3.3" ry="1.9" transform="rotate(100 452.4 98.7)"/><ellipse cx="453.4" cy="100.8" rx="4.2" ry="1.9" transform="rotate(100 453.4 100.8)"/><ellipse cx="450.8" cy="95.1" rx="3.3" ry="1.9" transform="rotate(210 450.8 95.1)"/><ellipse cx="449.8" cy="93.0" rx="4.2" ry="1.9" transform="rotate(210 449.8 93.0)"/><circle cx="452.5" cy="96.5" r="2.5"/><ellipse cx="529.5" cy="73.9" rx="3.3" ry="1.9" transform="rotate(76 529.5 73.9)"/><ellipse cx="532.1" cy="76.2" rx="4.2" ry="1.9" transform="rotate(76 532.1 76.2)"/><ellipse cx="525.1" cy="70.1" rx="3.3" ry="1.9" transform="rotate(186 525.1 70.1)"/><ellipse cx="522.4" cy="67.8" rx="4.2" ry="1.9" transform="rotate(186 522.4 67.8)"/><ellipse cx="527.2" cy="77.4" rx="3.3" ry="1.9" transform="rotate(76 527.2 77.4)"/><ellipse cx="530.4" cy="80.1" rx="4.2" ry="1.9" transform="rotate(76 530.4 80.1)"/><ellipse cx="522.0" cy="72.9" rx="3.3" ry="1.9" transform="rotate(186 522.0 72.9)"/><ellipse cx="518.8" cy="70.1" rx="4.2" ry="1.9" transform="rotate(186 518.8 70.1)"/><ellipse cx="524.8" cy="80.7" rx="3.3" ry="1.9" transform="rotate(76 524.8 80.7)"/><ellipse cx="528.3" cy="83.7" rx="4.2" ry="1.9" transform="rotate(76 528.3 83.7)"/><ellipse cx="519.1" cy="75.7" rx="3.3" ry="1.9" transform="rotate(186 519.1 75.7)"/><ellipse cx="515.6" cy="72.7" rx="4.2" ry="1.9" transform="rotate(186 515.6 72.7)"/><ellipse cx="522.1" cy="83.8" rx="3.3" ry="1.9" transform="rotate(76 522.1 83.8)"/><ellipse cx="525.7" cy="86.8" rx="4.2" ry="1.9" transform="rotate(76 525.7 86.8)"/><ellipse cx="516.4" cy="78.8" rx="3.3" ry="1.9" transform="rotate(186 516.4 78.8)"/><ellipse cx="512.9" cy="75.8" rx="4.2" ry="1.9" transform="rotate(186 512.9 75.8)"/><ellipse cx="519.3" cy="86.7" rx="3.3" ry="1.9" transform="rotate(76 519.3 86.7)"/><ellipse cx="522.6" cy="89.6" rx="4.2" ry="1.9" transform="rotate(76 522.6 89.6)"/><ellipse cx="513.9" cy="82.0" rx="3.3" ry="1.9" transform="rotate(186 513.9 82.0)"/><ellipse cx="510.6" cy="79.2" rx="4.2" ry="1.9" transform="rotate(186 510.6 79.2)"/><ellipse cx="516.3" cy="89.5" rx="3.3" ry="1.9" transform="rotate(76 516.3 89.5)"/><ellipse cx="519.1" cy="91.9" rx="4.2" ry="1.9" transform="rotate(76 519.1 91.9)"/><ellipse cx="511.6" cy="85.4" rx="3.3" ry="1.9" transform="rotate(186 511.6 85.4)"/><ellipse cx="508.7" cy="83.0" rx="4.2" ry="1.9" transform="rotate(186 508.7 83.0)"/><ellipse cx="513.1" cy="92.1" rx="3.3" ry="1.9" transform="rotate(76 513.1 92.1)"/><ellipse cx="515.3" cy="94.0" rx="4.2" ry="1.9" transform="rotate(76 515.3 94.0)"/><ellipse cx="509.4" cy="89.0" rx="3.3" ry="1.9" transform="rotate(186 509.4 89.0)"/><ellipse cx="507.2" cy="87.1" rx="4.2" ry="1.9" transform="rotate(186 507.2 87.1)"/><circle cx="510.0" cy="92.0" r="2.5"/><ellipse cx="509.1" cy="54.1" rx="3.3" ry="1.9" transform="rotate(-226 509.1 54.1)"/><ellipse cx="508.5" cy="58.0" rx="4.2" ry="1.9" transform="rotate(-226 508.5 58.0)"/><ellipse cx="510.0" cy="47.6" rx="3.3" ry="1.9" transform="rotate(-116 510.0 47.6)"/><ellipse cx="510.6" cy="43.7" rx="4.2" ry="1.9" transform="rotate(-116 510.6 43.7)"/><ellipse cx="503.6" cy="53.7" rx="3.3" ry="1.9" transform="rotate(-226 503.6 53.7)"/><ellipse cx="502.9" cy="58.1" rx="4.2" ry="1.9" transform="rotate(-226 502.9 58.1)"/><ellipse cx="504.7" cy="46.4" rx="3.3" ry="1.9" transform="rotate(-116 504.7 46.4)"/><ellipse cx="505.4" cy="42.0" rx="4.2" ry="1.9" transform="rotate(-116 505.4 42.0)"/><ellipse cx="498.1" cy="53.0" rx="3.3" ry="1.9" transform="rotate(-226 498.1 53.0)"/><ellipse cx="497.4" cy="57.6" rx="4.2" ry="1.9" transform="rotate(-226 497.4 57.6)"/><ellipse cx="499.3" cy="45.4" rx="3.3" ry="1.9" transform="rotate(-116 499.3 45.4)"/><ellipse cx="500.0" cy="40.8" rx="4.2" ry="1.9" transform="rotate(-116 500.0 40.8)"/><ellipse cx="492.7" cy="52.0" rx="3.3" ry="1.9" transform="rotate(-226 492.7 52.0)"/><ellipse cx="492.1" cy="56.5" rx="4.2" ry="1.9" transform="rotate(-226 492.1 56.5)"/><ellipse cx="493.9" cy="44.7" rx="3.3" ry="1.9" transform="rotate(-116 493.9 44.7)"/><ellipse cx="494.5" cy="40.2" rx="4.2" ry="1.9" transform="rotate(-116 494.5 40.2)"/><ellipse cx="487.4" cy="50.8" rx="3.3" ry="1.9" transform="rotate(-226 487.4 50.8)"/><ellipse cx="486.8" cy="54.8" rx="4.2" ry="1.9" transform="rotate(-226 486.8 54.8)"/><ellipse cx="488.4" cy="44.3" rx="3.3" ry="1.9" transform="rotate(-116 488.4 44.3)"/><ellipse cx="489.0" cy="40.3" rx="4.2" ry="1.9" transform="rotate(-116 489.0 40.3)"/><ellipse cx="482.1" cy="49.4" rx="3.3" ry="1.9" transform="rotate(-226 482.1 49.4)"/><ellipse cx="481.6" cy="52.7" rx="4.2" ry="1.9" transform="rotate(-226 481.6 52.7)"/><ellipse cx="482.9" cy="44.1" rx="3.3" ry="1.9" transform="rotate(-116 482.9 44.1)"/><ellipse cx="483.4" cy="40.8" rx="4.2" ry="1.9" transform="rotate(-116 483.4 40.8)"/><ellipse cx="476.8" cy="47.8" rx="3.3" ry="1.9" transform="rotate(-226 476.8 47.8)"/><ellipse cx="476.4" cy="50.2" rx="4.2" ry="1.9" transform="rotate(-226 476.4 50.2)"/><ellipse cx="477.4" cy="44.0" rx="3.3" ry="1.9" transform="rotate(-116 477.4 44.0)"/><ellipse cx="477.7" cy="41.6" rx="4.2" ry="1.9" transform="rotate(-116 477.7 41.6)"/><circle cx="477.7" cy="46.0" r="2.5"/><ellipse cx="524.3" cy="42.6" rx="3.3" ry="1.9" transform="rotate(-190 524.3 42.6)"/><ellipse cx="521.8" cy="45.1" rx="4.2" ry="1.9" transform="rotate(-190 521.8 45.1)"/><ellipse cx="528.4" cy="38.5" rx="3.3" ry="1.9" transform="rotate(-80 528.4 38.5)"/><ellipse cx="530.9" cy="36.0" rx="4.2" ry="1.9" transform="rotate(-80 530.9 36.0)"/><ellipse cx="521.1" cy="40.1" rx="3.3" ry="1.9" transform="rotate(-190 521.1 40.1)"/><ellipse cx="518.1" cy="43.1" rx="4.2" ry="1.9" transform="rotate(-190 518.1 43.1)"/><ellipse cx="526.0" cy="35.2" rx="3.3" ry="1.9" transform="rotate(-80 526.0 35.2)"/><ellipse cx="529.0" cy="32.3" rx="4.2" ry="1.9" transform="rotate(-80 529.0 32.3)"/><ellipse cx="518.0" cy="37.5" rx="3.3" ry="1.9" transform="rotate(-190 518.0 37.5)"/><ellipse cx="514.7" cy="40.7" rx="4.2" ry="1.9" transform="rotate(-190 514.7 40.7)"/><ellipse cx="523.4" cy="32.2" rx="3.3" ry="1.9" transform="rotate(-80 523.4 32.2)"/><ellipse cx="526.6" cy="28.9" rx="4.2" ry="1.9" transform="rotate(-80 526.6 28.9)"/><ellipse cx="515.1" cy="34.6" rx="3.3" ry="1.9" transform="rotate(-190 515.1 34.6)"/><ellipse cx="511.8" cy="37.9" rx="4.2" ry="1.9" transform="rotate(-190 511.8 37.9)"/><ellipse cx="520.6" cy="29.3" rx="3.3" ry="1.9" transform="rotate(-80 520.6 29.3)"/><ellipse cx="523.9" cy="26.0" rx="4.2" ry="1.9" transform="rotate(-80 523.9 26.0)"/><ellipse cx="512.5" cy="31.6" rx="3.3" ry="1.9" transform="rotate(-190 512.5 31.6)"/><ellipse cx="509.4" cy="34.7" rx="4.2" ry="1.9" transform="rotate(-190 509.4 34.7)"/><ellipse cx="517.5" cy="26.6" rx="3.3" ry="1.9" transform="rotate(-80 517.5 26.6)"/><ellipse cx="520.6" cy="23.5" rx="4.2" ry="1.9" transform="rotate(-80 520.6 23.5)"/><ellipse cx="510.0" cy="28.4" rx="3.3" ry="1.9" transform="rotate(-190 510.0 28.4)"/><ellipse cx="507.3" cy="31.0" rx="4.2" ry="1.9" transform="rotate(-190 507.3 31.0)"/><ellipse cx="514.4" cy="24.0" rx="3.3" ry="1.9" transform="rotate(-80 514.4 24.0)"/><ellipse cx="517.0" cy="21.4" rx="4.2" ry="1.9" transform="rotate(-80 517.0 21.4)"/><ellipse cx="507.6" cy="25.0" rx="3.3" ry="1.9" transform="rotate(-190 507.6 25.0)"/><ellipse cx="505.5" cy="27.1" rx="4.2" ry="1.9" transform="rotate(-190 505.5 27.1)"/><ellipse cx="511.0" cy="21.7" rx="3.3" ry="1.9" transform="rotate(-80 511.0 21.7)"/><ellipse cx="513.1" cy="19.6" rx="4.2" ry="1.9" transform="rotate(-80 513.1 19.6)"/><circle cx="508.0" cy="22.0" r="2.5"/><ellipse cx="506.3" cy="66.0" rx="3.3" ry="1.9" transform="rotate(114 506.3 66.0)"/><ellipse cx="507.1" cy="69.9" rx="4.2" ry="1.9" transform="rotate(114 507.1 69.9)"/><ellipse cx="505.1" cy="59.7" rx="3.3" ry="1.9" transform="rotate(224 505.1 59.7)"/><ellipse cx="504.3" cy="55.8" rx="4.2" ry="1.9" transform="rotate(224 504.3 55.8)"/><ellipse cx="500.4" cy="67.7" rx="3.3" ry="1.9" transform="rotate(114 500.4 67.7)"/><ellipse cx="501.2" cy="72.1" rx="4.2" ry="1.9" transform="rotate(114 501.2 72.1)"/><ellipse cx="498.9" cy="60.5" rx="3.3" ry="1.9" transform="rotate(224 498.9 60.5)"/><ellipse cx="498.0" cy="56.1" rx="4.2" ry="1.9" transform="rotate(224 498.0 56.1)"/><ellipse cx="494.3" cy="69.0" rx="3.3" ry="1.9" transform="rotate(114 494.3 69.0)"/><ellipse cx="495.2" cy="73.6" rx="4.2" ry="1.9" transform="rotate(114 495.2 73.6)"/><ellipse cx="492.8" cy="61.5" rx="3.3" ry="1.9" transform="rotate(224 492.8 61.5)"/><ellipse cx="491.9" cy="56.9" rx="4.2" ry="1.9" transform="rotate(224 491.9 56.9)"/><ellipse cx="488.2" cy="70.1" rx="3.3" ry="1.9" transform="rotate(114 488.2 70.1)"/><ellipse cx="489.1" cy="74.6" rx="4.2" ry="1.9" transform="rotate(114 489.1 74.6)"/><ellipse cx="486.8" cy="62.9" rx="3.3" ry="1.9" transform="rotate(224 486.8 62.9)"/><ellipse cx="485.9" cy="58.4" rx="4.2" ry="1.9" transform="rotate(224 485.9 58.4)"/><ellipse cx="482.1" cy="71.0" rx="3.3" ry="1.9" transform="rotate(114 482.1 71.0)"/><ellipse cx="482.9" cy="74.9" rx="4.2" ry="1.9" transform="rotate(114 482.9 74.9)"/><ellipse cx="480.8" cy="64.5" rx="3.3" ry="1.9" transform="rotate(224 480.8 64.5)"/><ellipse cx="480.0" cy="60.5" rx="4.2" ry="1.9" transform="rotate(224 480.0 60.5)"/><ellipse cx="475.9" cy="71.6" rx="3.3" ry="1.9" transform="rotate(114 475.9 71.6)"/><ellipse cx="476.5" cy="74.8" rx="4.2" ry="1.9" transform="rotate(114 476.5 74.8)"/><ellipse cx="474.8" cy="66.3" rx="3.3" ry="1.9" transform="rotate(224 474.8 66.3)"/><ellipse cx="474.2" cy="63.0" rx="4.2" ry="1.9" transform="rotate(224 474.2 63.0)"/><ellipse cx="469.7" cy="72.1" rx="3.3" ry="1.9" transform="rotate(114 469.7 72.1)"/><ellipse cx="470.1" cy="74.4" rx="4.2" ry="1.9" transform="rotate(114 470.1 74.4)"/><ellipse cx="468.9" cy="68.2" rx="3.3" ry="1.9" transform="rotate(224 468.9 68.2)"/><ellipse cx="468.4" cy="65.9" rx="4.2" ry="1.9" transform="rotate(224 468.4 65.9)"/><circle cx="470.0" cy="70.0" r="2.5"/><ellipse cx="516.5" cy="76.5" rx="3.3" ry="1.9" transform="rotate(91 516.5 76.5)"/><ellipse cx="518.8" cy="79.8" rx="4.2" ry="1.9" transform="rotate(91 518.8 79.8)"/><ellipse cx="512.9" cy="71.2" rx="3.3" ry="1.9" transform="rotate(201 512.9 71.2)"/><ellipse cx="510.6" cy="67.9" rx="4.2" ry="1.9" transform="rotate(201 510.6 67.9)"/><ellipse cx="512.2" cy="80.0" rx="3.3" ry="1.9" transform="rotate(91 512.2 80.0)"/><ellipse cx="514.7" cy="83.7" rx="4.2" ry="1.9" transform="rotate(91 514.7 83.7)"/><ellipse cx="508.1" cy="73.9" rx="3.3" ry="1.9" transform="rotate(201 508.1 73.9)"/><ellipse cx="505.6" cy="70.2" rx="4.2" ry="1.9" transform="rotate(201 505.6 70.2)"/><ellipse cx="507.8" cy="83.2" rx="3.3" ry="1.9" transform="rotate(91 507.8 83.2)"/><ellipse cx="510.4" cy="87.0" rx="4.2" ry="1.9" transform="rotate(91 510.4 87.0)"/><ellipse cx="503.5" cy="76.9" rx="3.3" ry="1.9" transform="rotate(201 503.5 76.9)"/><ellipse cx="500.8" cy="73.0" rx="4.2" ry="1.9" transform="rotate(201 500.8 73.0)"/><ellipse cx="503.2" cy="86.2" rx="3.3" ry="1.9" transform="rotate(91 503.2 86.2)"/><ellipse cx="505.7" cy="89.9" rx="4.2" ry="1.9" transform="rotate(91 505.7 89.9)"/><ellipse cx="499.0" cy="80.0" rx="3.3" ry="1.9" transform="rotate(201 499.0 80.0)"/><ellipse cx="496.5" cy="76.3" rx="4.2" ry="1.9" transform="rotate(201 496.5 76.3)"/><ellipse cx="498.4" cy="88.9" rx="3.3" ry="1.9" transform="rotate(91 498.4 88.9)"/><ellipse cx="500.7" cy="92.3" rx="4.2" ry="1.9" transform="rotate(91 500.7 92.3)"/><ellipse cx="494.7" cy="83.5" rx="3.3" ry="1.9" transform="rotate(201 494.7 83.5)"/><ellipse cx="492.4" cy="80.1" rx="4.2" ry="1.9" transform="rotate(201 492.4 80.1)"/><ellipse cx="493.5" cy="91.5" rx="3.3" ry="1.9" transform="rotate(91 493.5 91.5)"/><ellipse cx="495.4" cy="94.2" rx="4.2" ry="1.9" transform="rotate(91 495.4 94.2)"/><ellipse cx="490.5" cy="87.0" rx="3.3" ry="1.9" transform="rotate(201 490.5 87.0)"/><ellipse cx="488.6" cy="84.3" rx="4.2" ry="1.9" transform="rotate(201 488.6 84.3)"/><ellipse cx="488.6" cy="94.0" rx="3.3" ry="1.9" transform="rotate(91 488.6 94.0)"/><ellipse cx="489.9" cy="95.9" rx="4.2" ry="1.9" transform="rotate(91 489.9 95.9)"/><ellipse cx="486.4" cy="90.8" rx="3.3" ry="1.9" transform="rotate(201 486.4 90.8)"/><ellipse cx="485.0" cy="88.8" rx="4.2" ry="1.9" transform="rotate(201 485.0 88.8)"/><circle cx="488.0" cy="92.0" r="2.5"/></g><path d="M546,40 C560,38 600,40 673,50.5 C600,62 565,72 546,72 C538,72 536,40 546,40 Z" fill="#e26a28"/><path d="M548,64 C570,66 600,60 650,53 C600,58 570,62 548,64Z" fill="#c04a18" opacity="0.6"/><g stroke="#a83a10" stroke-width="1"><line x1="556" y1="46" x2="557" y2="52"/><line x1="570" y1="56" x2="571" y2="63"/><line x1="584" y1="44" x2="585" y2="50"/><line x1="598" y1="55" x2="598" y2="61"/><line x1="612" y1="47" x2="613" y2="52"/><line x1="628" y1="53" x2="628" y2="58"/><line x1="562" y1="62" x2="563" y2="68"/></g><path d="M436.4,168.2 C434.9,172.5 431.9,173.0 437.7,177.2 C443.5,181.5 449.8,178.9 455.7,182.4 C461.7,185.9 453.8,185.0 457.7,188.8 C461.5,192.7 459.5,193.2 468.6,195.3 C477.7,197.4 477.9,197.5 487.9,195.9 C498.0,194.4 492.4,195.0 502.1,190.1 C511.8,185.3 510.9,184.5 520.1,179.8 C529.4,175.2 523.3,177.0 533.0,174.7 C542.7,172.4 542.7,176.0 552.3,172.1 C562.0,168.2 559.8,170.7 565.2,161.8 C570.6,152.9 568.8,152.5 570.3,142.5 C571.9,132.4 573.8,136.0 570.3,128.3 C566.9,120.6 568.0,121.8 558.7,116.7 C549.5,111.7 553.0,112.9 539.4,111.6 C525.9,110.2 528.0,109.9 513.7,112.2 C499.4,114.5 503.4,112.9 491.8,119.3 C480.2,125.7 482.0,125.7 475.1,133.5 C468.1,141.2 474.4,138.9 468.6,145.1 C462.8,151.2 463.5,148.7 455.7,154.1 C448.0,159.5 448.7,158.8 442.9,163.1 C437.1,167.3 438.0,164.0 436.4,168.2Z" fill="#ec7c6a"/><path d="M490.5,129.6 C494.4,125.4 494.5,123.9 507.2,119.3 C520.0,114.7 518.3,114.5 533.0,114.2 C547.7,113.8 550.0,114.5 556.2,118.0 C562.4,121.5 560.6,123.8 553.6,125.7 C546.6,127.7 546.9,123.3 533.0,124.5 C519.1,125.6 518.8,126.9 507.2,129.6 C495.7,132.3 499.4,133.5 494.4,133.5 C489.4,133.5 486.6,133.9 490.5,129.6Z" fill="#f39a88"/><path d="M453.2,160.5 C457.0,154.3 458.2,152.8 468.6,148.9 C479.1,145.1 479.1,145.7 487.9,147.6 C496.8,149.6 496.3,149.6 498.2,155.4 C500.2,161.2 501.3,161.9 494.4,166.9 C487.4,172.0 486.6,171.3 475.1,172.1 C463.5,172.9 462.3,173.0 455.7,169.5 C449.2,166.0 449.3,166.7 453.2,160.5Z" fill="#f29684"/><path d="M502.1,159.2 C506.0,151.5 508.9,153.0 520.1,151.5 C531.3,150.0 534.4,147.9 539.4,154.1 C544.5,160.3 542.7,164.4 536.9,172.1 C531.1,179.8 529.0,178.3 520.1,179.8 C511.2,181.4 512.7,183.4 507.2,177.2 C501.8,171.1 498.2,166.9 502.1,159.2Z" fill="#e26a58" opacity="0.8"/><path d="M543.3,138.6 C545.6,135.9 549.0,135.3 553.6,139.9 C558.2,144.5 559.1,149.1 558.7,154.1 C558.4,159.1 556.2,158.2 552.3,156.6 C548.4,155.1 548.6,154.3 545.9,148.9 C543.2,143.5 541.0,141.3 543.3,138.6Z" fill="#f4a494" opacity="0.8"/><ellipse cx="613" cy="130.5" rx="35" ry="34.5" fill="#3a9a3a"/><ellipse cx="618" cy="122" rx="26" ry="24" fill="#4aaa40"/><ellipse cx="605" cy="106" rx="6" ry="5" fill="#7ac060"/><ellipse cx="610" cy="126" rx="7" ry="5" fill="#7ac060"/><ellipse cx="634" cy="124" rx="8" ry="6" fill="#7ac060"/><path d="M592,160 C605,168 630,166 645,152 C635,162 610,166 592,160Z" fill="#2a7a2a"/><path d="M622,101 L645,89" stroke="#6a6a50" stroke-width="3" stroke-linecap="round"/><path d="M628,68 C634,76 636,90 628,98 C620,90 622,76 628,68Z" fill="#3a9a3a"/><path d="M628,72 L628,96" stroke="#80c060" stroke-width="1"/><polygon points="685.5,50.5 705.9,30.2 740.8,36 753.8,58.5 713.1,49.8" fill="#eef2f6"/><polygon points="705.9,30.2 740.8,36 741,43 706,37" fill="#cfd6e2"/><polygon points="713.1,49.8 753.8,58.5 731.3,151.5 697.2,145" fill="#f6f8fa"/><polygon points="685.5,50.5 713.1,49.8 697.2,145 665.9,129.7" fill="url(#gMilkL)"/><path d="M669.5,112 C675,108 682,110 690,114 C696,117 702,118 705,118.8 L697.2,145 L665.9,129.7Z" fill="#86c2ea"/><path d="M713.1,49.8 L753.8,58.5 L749.5,74 C747,70 744,70 742,73 C740,78 740,82 736,81 C732,79 733,72 728,72 C722,72 723,90 722,107 C721,118 717,126 712,124 C706,122 703,120 704,118 Z" fill="url(#gMilkR)"/><text transform="translate(691.5,77) rotate(-74)" class="b" font-size="14" fill="#fff" text-anchor="middle" dy="5">MILK</text><path d="M576.6,196.7 C585,186 595,179 607.8,174 C620,168 632,163 645.5,160.8 C670,158 690,157.5 702.2,158 C720,158 732,158.5 745.6,158.9 L775.9,145.7 L766.4,157 L777.7,166.4 L745.6,168.3 C740,171 735,172 730.5,174 C712,182 698,188 683.3,192.9 C668,198 655,202 645.5,204.2 C630,207 618,208 607.8,208 C598,207 590,205 585.1,202.3 C581,200 578,198 576.6,196.7Z" fill="url(#gFish)"/><path d="M745.6,158.9 L775.9,145.7 L766.4,157 L777.7,166.4 L745.6,168.3Z" fill="#5a5aa0"/><path d="M617,184 C650,172 700,165 727,164 C733,164 733,168 727,169 C700,172 650,180 620,190 C612,192 610,187 617,184Z" fill="#b4bad8" opacity="0.9"/><path d="M647,196 C680,186 710,178 724,175 C730,174 730,177 724,179 C705,186 680,195 652,201 C644,203 641,198 647,196Z" fill="#6a70b0"/><path d="M586,186 C600,176 625,165 650,162 C680,159 720,159 746,160" fill="none" stroke="#38388a" stroke-width="4"/><path d="M610,171 C625,164 640,160 684,156" fill="none" stroke="#3a3a88" stroke-width="2.2" stroke-dasharray="1.2 1.6"/><path d="M605.9,177.8 C611,186 612,195 610.6,202.3" fill="none" stroke="#2a2a78" stroke-width="1.8"/><path d="M609.7,202.3 L636,203 L628,205.5 L634,207 L612,206Z" fill="#2a2a78"/><circle cx="596.4" cy="190" r="3.4" fill="#fff"/><circle cx="596.6" cy="190" r="2" fill="#2a2a78"/></g>
<!-- TOPRIGHT CONTENT -->
<g id="chem"><ellipse cx="925" cy="152" rx="40" ry="14" fill="#999" opacity="0.35" filter="url(#blur8)"/><ellipse cx="1085" cy="125" rx="45" ry="30" fill="#999" opacity="0.35" filter="url(#blur8)"/><g fill="#d6e6ea" opacity="0.9"><circle cx="918" cy="72" r="13"/><circle cx="936" cy="62" r="14"/><circle cx="958" cy="62" r="14"/><circle cx="974" cy="74" r="12"/><circle cx="978" cy="94" r="11"/><circle cx="970" cy="110" r="10"/><circle cx="952" cy="117" r="11"/><circle cx="930" cy="112" r="13"/><circle cx="912" cy="94" r="13"/><circle cx="945" cy="90" r="21"/><path d="M962,108 C972,112 980,116 992,122 L990,127 C978,124 966,120 958,118Z"/></g><ellipse cx="947" cy="90" rx="6.5" ry="10" fill="#c8784a"/><circle cx="947" cy="79" r="3.5" fill="#b86a3a"/><g fill="none" stroke="#333" stroke-width="1"><path d="M943,82 L938,74 L940,68 M951,82 L956,74 L954,68 M942,88 L935,90 L932,96 M952,88 L959,90 L962,96 M943,96 L937,102 L936,107 M951,96 L957,102 L958,107"/></g><circle cx="946.5" cy="90" r="23.3" fill="none" stroke="#e8302c" stroke-width="5"/><line x1="962" y1="74" x2="931" y2="106" stroke="#e8302c" stroke-width="4.5"/><text x="926.7" y="146.3" style="font-size:16.8px" class="b" text-anchor="middle" fill="#111">Pesticide</text><text x="1055.1" y="76.1" style="font-size:16.5px" class="b" text-anchor="middle" fill="#111">Heavy metals</text><g transform="translate(982,160) rotate(18) scale(0.9)"><path d="M-6,-22 L6,-22 L6,-16 C12,-12 13,-8 13,-4 L13,20 C13,23 11,24 9,24 L-9,24 C-11,24 -13,23 -13,20 L-13,-4 C-13,-8 -12,-12 -6,-16 Z" fill="#3ab04a"/><path d="M-3,-10 L3,-10 C8,-7 9,-4 9,0 L9,17 C9,19 8,20 6,20 L-6,20 C-8,20 -9,19 -9,17 L-9,0 C-9,-4 -8,-7 -3,-10Z" fill="#f8f0e0" stroke="#d83a2a" stroke-width="1.2"/><ellipse cx="0" cy="6" rx="4" ry="5.5" fill="#d83a2a"/><path d="M-7,-22 L8,-22 L14,-30 L2,-32 L-6,-28Z" fill="#f8c020"/></g><polygon points="983,137 994,126 997,131" fill="#f04020"/><circle cx="1040.9" cy="105.4" r="14.8" fill="url(#gm_Cr)" stroke="#111" stroke-width="2.4"/><text x="1040.9" y="110.9" class="b" font-size="15.5" text-anchor="middle" fill="#2a1060">Cr</text><circle cx="1076.9" cy="95.7" r="14.600000000000001" fill="url(#gm_Pb)" stroke="#111" stroke-width="2.4"/><text x="1076.9" y="101.2" class="b" font-size="15.5" text-anchor="middle" fill="#111">Pb</text><circle cx="1113" cy="101.5" r="14.8" fill="url(#gm_Ni)" stroke="#111" stroke-width="2.4"/><text x="1113" y="107.0" class="b" font-size="15.5" text-anchor="middle" fill="#0a3a10">Ni</text><circle cx="1059.5" cy="138.8" r="14.200000000000001" fill="url(#gm_Cd)" stroke="#111" stroke-width="2.4"/><text x="1059.5" y="144.3" class="b" font-size="15.5" text-anchor="middle" fill="#111">Cd</text><circle cx="1094.9" cy="132.4" r="14.8" fill="url(#gm_Hg)" stroke="#111" stroke-width="2.4"/><text x="1094.9" y="137.9" class="b" font-size="15.5" text-anchor="middle" fill="#0a2a50">Hg</text></g>

<!-- ===== PENTAGONS ===== -->
<g fill="#f3dcc5">
 <use href="#pent" transform="translate(298,454) rotate(-5.14)"/>
 <use href="#pent" transform="translate(893.5,457) rotate(5.14)"/>
 <use href="#pent" transform="translate(358,715) rotate(15.43)"/>
 <use href="#pent" transform="translate(596,826) rotate(36)"/>
 <use href="#pent" transform="translate(834,713.5) rotate(-15.43)"/>
</g>

<!-- P1 ELECTROCHEMICAL -->
<g id="p1">
 <text x="297.7" y="362.6" style="font-size:16.87px" class="t">Electrochemical</text>
 <text x="297.5" y="381.9" style="font-size:17.21px" class="t">signal</text>
 <text x="197.7" y="445.9" style="font-size:16.31px" class="t">Target</text>
 <text x="288.9" y="557.8" style="font-size:16.71px" class="r">Electrochemical</text>
 <rect x="294" y="387" width="91.5" height="62.5" fill="none" stroke="#6a6456" stroke-width="1.5"/>
 <polyline points="381.0,403.2 367.3,403.2 350.1,401.0 343.2,397.6 338.1,392.4 334.6,391.6 330.3,393.3 327.8,396.7 326.5,402.7 326.1,408.8 325.2,419.1 315.8,421.6 307.2,423.8 300.3,425.9 302.0,429.4 307.2,434.5 315.8,442.2 322.6,446.1 326.9,444.8 329.5,438.8 331.2,428.5 336.4,419.9 345.8,414.8 363.0,409.6 375.8,406.2 381.0,403.2" fill="none" stroke="#d43a3a" stroke-width="1.3" stroke-linejoin="round"/>
 <polyline points="381.0,403.2 367.3,403.2 348.4,401.5 344.1,401.0 341.5,402.7 338.1,408.8 334.6,414.8 326.9,419.9 315.8,422.5 306.3,426.8 307.2,428.9 312.3,430.2 324.3,430.2 331.2,429.4 338.1,425.9 341.5,420.8 344.9,415.6 358.7,410.5 375.8,406.2 381.0,403.2" fill="none" stroke="#222" stroke-width="1.5" stroke-linejoin="round"/>
 <use href="#vir" transform="translate(233.7,406.6) scale(0.66)"/>
 <use href="#vir" transform="translate(219.6,425.3) scale(0.68)"/>
 <use href="#vir" transform="translate(244.1,444.9) scale(1.12)"/>
 <path d="M256,424 C268,422 280,426 278,446" fill="none" stroke="#1a2a90" stroke-width="2.2"/>
 <polygon points="272,443 284,443 277,453" fill="#1a2a90"/>
 <path d="M362,486 C372,478 376,465 374,452" fill="none" stroke="#d4252a" stroke-width="2"/>
 <polygon points="368,455 380,453 374,444" fill="#d4252a"/>
 <use href="#slab" transform="translate(303.5,476.5)"/>
 <g fill="#c0c0d4" fill-opacity="0.55" stroke="#6a6aa8" stroke-width="0.6"><polygon points="290.0,494.0 287.0,498.2 281.0,498.2 278.0,494.0 281.0,489.8 287.0,489.8"/><polygon points="300.8,494.0 297.8,498.2 291.8,498.2 288.8,494.0 291.8,489.8 297.8,489.8"/><polygon points="311.6,494.0 308.6,498.2 302.6,498.2 299.6,494.0 302.6,489.8 308.6,489.8"/><polygon points="322.4,494.0 319.4,498.2 313.4,498.2 310.4,494.0 313.4,489.8 319.4,489.8"/><polygon points="333.2,494.0 330.2,498.2 324.2,498.2 321.2,494.0 324.2,489.8 330.2,489.8"/><polygon points="295.4,502.4 292.4,506.6 286.4,506.6 283.4,502.4 286.4,498.2 292.4,498.2"/><polygon points="306.2,502.4 303.2,506.6 297.2,506.6 294.2,502.4 297.2,498.2 303.2,498.2"/><polygon points="317.0,502.4 314.0,506.6 308.0,506.6 305.0,502.4 308.0,498.2 314.0,498.2"/><polygon points="327.8,502.4 324.8,506.6 318.8,506.6 315.8,502.4 318.8,498.2 324.8,498.2"/><polygon points="338.6,502.4 335.6,506.6 329.6,506.6 326.6,502.4 329.6,498.2 335.6,498.2"/><polygon points="290.0,510.8 287.0,515.0 281.0,515.0 278.0,510.8 281.0,506.6 287.0,506.6"/><polygon points="300.8,510.8 297.8,515.0 291.8,515.0 288.8,510.8 291.8,506.6 297.8,506.6"/><polygon points="311.6,510.8 308.6,515.0 302.6,515.0 299.6,510.8 302.6,506.6 308.6,506.6"/><polygon points="322.4,510.8 319.4,515.0 313.4,515.0 310.4,510.8 313.4,506.6 319.4,506.6"/><polygon points="333.2,510.8 330.2,515.0 324.2,515.0 321.2,510.8 324.2,506.6 330.2,506.6"/><polygon points="295.4,519.2 292.4,523.4 286.4,523.4 283.4,519.2 286.4,515.0 292.4,515.0"/><polygon points="306.2,519.2 303.2,523.4 297.2,523.4 294.2,519.2 297.2,515.0 303.2,515.0"/><polygon points="317.0,519.2 314.0,523.4 308.0,523.4 305.0,519.2 308.0,515.0 314.0,515.0"/><polygon points="327.8,519.2 324.8,523.4 318.8,523.4 315.8,519.2 318.8,515.0 324.8,515.0"/><polygon points="338.6,519.2 335.6,523.4 329.6,523.4 326.6,519.2 329.6,515.0 335.6,515.0"/></g>
 <use href="#vir" transform="translate(287.5,461) scale(0.8)"/>
 <use href="#ab" transform="translate(286.5,481) scale(0.62)"/>
 <use href="#ab" transform="translate(331,478) scale(0.55)"/>
 <use href="#vir" transform="translate(312,476) scale(1.05)"/>
 <use href="#ab" transform="translate(309.5,523) scale(1.0)"/>
</g>
<!-- P2 IMMUNO -->
<g id="p2"><circle cx="892" cy="400" r="34" fill="#b0a040" opacity="0.5" filter="url(#blur10)"/><polygon points="898.2,370.5 901.5,388.2 919.3,385.7 907.5,399.3 920.6,411.7 902.6,410.9 901.1,428.9 890.5,414.3 875.5,424.4 880.3,406.9 863.0,401.5 879.6,394.4 873.1,377.5 889.1,386.0" fill="#f8e800"/><path d="M853.5,406 V447 L834,461 M864,406 V447 L887,462 M843.4,443.2 L828.8,453.7 M874.7,443.2 L891.9,454.5" fill="none" stroke="#d08018" stroke-width="9.1"/><path d="M853.5,406 V447 L834,461 M864,406 V447 L887,462 M843.4,443.2 L828.8,453.7 M874.7,443.2 L891.9,454.5" fill="none" stroke="#f2a02a" stroke-width="7.5"/><path d="M853.5,406 V447 L834,461 M864,406 V447 L887,462 M843.4,443.2 L828.8,453.7 M874.7,443.2 L891.9,454.5" fill="none" stroke="#fff050" stroke-width="1.3"/><g transform="translate(888,465.5) rotate(-35)"><rect x="-17" y="-8.5" width="34" height="17" rx="8.5" fill="#e0306a"/><rect x="-12" y="-6" width="22" height="4" rx="2" fill="#f87aa8"/></g><path d="M913,527 V490 L893,474 M923.5,527 V490 L944,473 M887,481 L901.5,493 M934.8,492.6 L949.8,479.9" fill="none" stroke="#1a6ab0" stroke-width="9.1"/><path d="M913,527 V490 L893,474 M923.5,527 V490 L944,473 M887,481 L901.5,493 M934.8,492.6 L949.8,479.9" fill="none" stroke="#2f9ae0" stroke-width="7.5"/><path d="M913,527 V490 L893,474 M923.5,527 V490 L944,473 M887,481 L901.5,493 M934.8,492.6 L949.8,479.9" fill="none" stroke="#a0e0ff" stroke-width="1.3"/><text x="955.0" y="439.8" style="font-size:16.34px" class="t">Antibody</text><text x="832.9" y="488.5" style="font-size:16.57px" class="t">Target</text><text x="906.4" y="555.9" style="font-size:16.53px" class="r">Immunoassay</text><path d="M918,435 C910,432 900,433 894,437" fill="none" stroke="#111" stroke-width="1.8"/><polygon points="889.0,439.5 895.6,440.3 892.6,434.0" fill="#111"/><path d="M937,443 C936,450 940,457 944,461" fill="none" stroke="#111" stroke-width="1.8"/><polygon points="946.0,465.0 946.2,458.4 940.2,461.9" fill="#111"/><path d="M836,474 C842,467 856,465 866,470" fill="none" stroke="#111" stroke-width="1.8"/><polygon points="871.0,472.5 867.4,467.0 864.4,473.3" fill="#111"/></g>
<!-- P3 CHEM REACTION -->
<g id="p3"><text x="358.4" y="627.8" style="font-size:17.16px" class="t">Target</text><text x="357.6" y="648.1" style="font-size:17.23px" class="t">solution</text><text x="298.0" y="721.2" style="font-size:17.46px" class="t">Chemical</text><text x="298.3" y="740.9" style="font-size:16.74px" class="t">modification</text><text x="430.8" y="716.3" style="font-size:16.75px" class="t">Color change</text><text x="356.6" y="806.9" style="font-size:16.8px" class="r">Chemical reaction</text><path d="M308.5,635 C304,644 299.5,650 299.5,655 C299.5,660.5 304,664 309.5,664 C315,664 319.5,660.5 319.5,655 C319.5,650 313,643 308.5,635Z" fill="url(#gDrop)"/><path d="M318.5,630.5 C316.5,634 315,636.5 315,639 C315,641.5 317,643 319.5,643 C322,643 324,641.5 324,639 C324,636 321,633 318.5,630.5Z" fill="url(#gDrop)"/><use href="#slab" transform="translate(308,660) scale(0.67,0.64)"/><ellipse cx="310" cy="673" rx="21" ry="10.5" fill="#e2e2e2"/><path d="M294,677 C294,688 298,696 302,700" fill="none" stroke="#111" stroke-width="1.8"/><polygon points="304.0,704.0 304.2,697.4 298.2,700.9" fill="#111"/><path d="M346,703 C350,716 356,727 364,731" fill="none" stroke="#1a2a90" stroke-width="2"/><polygon points="368.0,733.0 364.1,727.0 360.9,733.9" fill="#1a2a90"/><use href="#slab" transform="translate(399,734) scale(0.66,0.66)"/><ellipse cx="400" cy="748.5" rx="20" ry="10" fill="url(#gBlueE)"/><path d="M400,739 C400,734 399,731 402,728" fill="none" stroke="#d4252a" stroke-width="1.5"/><polygon points="404.0,725.0 399.8,727.2 404.2,729.7" fill="#d4252a"/></g>
<!-- P4 ENZYME -->
<g id="p4"><text x="634.5" y="737.3" style="font-size:17.13px" class="t">Products</text><text x="533.3" y="769.3" style="font-size:16.28px" class="t">Target</text><text x="521.0" y="881.5" style="font-size:17.11px" class="t">Enzyme</text><text x="594.1" y="921.1" style="font-size:16.54px" class="r">Enzymatic</text><text x="594.2" y="939.6" style="font-size:17.4px" class="r">reaction</text><use href="#enz" transform="translate(596.6,793)"/><use href="#enz" transform="translate(530.5,840)"/><use href="#enz" transform="translate(607,877)"/><use href="#enz" transform="translate(665.6,826)"/><use href="#hexR" transform="translate(597,750.5) scale(1.15)"/><use href="#cirG" transform="translate(624.5,755)"/><use href="#hexB" transform="translate(521.7,805) scale(1.1)"/><use href="#cirB" transform="translate(546,808)"/><use href="#hexB" transform="translate(599.5,853.5) scale(1.1)"/><use href="#cirB" transform="translate(624,857)"/><use href="#hexR" transform="translate(658.3,800.5) scale(1.1)"/><use href="#cirG" transform="translate(683,805)"/><path d="M588,778 C586,774 587,771 589,769" fill="none" stroke="#d4252a" stroke-width="1.5"/><polygon points="590.0,766.0 586.3,768.9 591.0,770.6" fill="#d4252a"/><path d="M608,776 C607,772 609,769 611,767" fill="none" stroke="#d4252a" stroke-width="1.5"/><polygon points="612.0,764.0 607.8,766.2 612.2,768.7" fill="#d4252a"/><path d="M535,777 C541,781 545,786 544,792" fill="none" stroke="#111" stroke-width="1.8"/><polygon points="544.0,796.0 547.5,790.4 540.5,790.4" fill="#111"/><path d="M516,848 C515,856 518,862 522,866" fill="none" stroke="#111" stroke-width="1.8"/><polygon points="524.0,870.0 524.2,863.4 518.2,866.9" fill="#111"/><path d="M553,856 C558,866 566,869 576,868" fill="none" stroke="#1a2a90" stroke-width="2"/><polygon points="581.0,868.0 574.9,864.2 574.9,871.8" fill="#1a2a90"/><path d="M639,872 C650,868 660,862 665,853" fill="none" stroke="#1a2a90" stroke-width="2"/><polygon points="667.0,849.0 661.0,852.9 667.9,856.1" fill="#1a2a90"/><path d="M640,814 C636,806 630,802 624,801" fill="none" stroke="#1a2a90" stroke-width="2"/><polygon points="619.0,800.0 624.3,804.8 625.6,797.3" fill="#1a2a90"/></g>
<!-- P5 MOLECULAR -->
<g id="p5"><text x="836.0" y="628.4" style="font-size:16.58px" class="t">ssDNA-Hg<tspan dy="-6" font-size="9">+</tspan></text><text x="836.6" y="646.6" style="font-size:17.17px" class="t">(quenching)</text><text x="755.9" y="701.3" style="font-size:16.46px" class="t">Hg<tspan dy="-6" font-size="9">+</tspan></text><text x="747.6" y="738.5" style="font-size:16.92px" class="t">ssDNA</text><text x="834.1" y="806.6" style="font-size:16.59px" class="r">Molecular assay</text><circle cx="790" cy="690" r="22" fill="#555" opacity="0.45" filter="url(#blur8)"/><circle cx="900" cy="690" r="24" fill="#777" opacity="0.3" filter="url(#blur8)"/><circle cx="781" cy="671" r="5.8" fill="url(#gBall)"/><circle cx="771.5" cy="681" r="5.8" fill="url(#gBall)"/><circle cx="785.5" cy="684.5" r="5.8" fill="url(#gBall)"/><circle cx="796.5" cy="692" r="5.8" fill="url(#gBall)"/><circle cx="782.5" cy="699" r="5.8" fill="url(#gBall)"/><path d="M785,706 C790,720 796,732 800,740" fill="none" stroke="#e0502a" stroke-width="1.8"/><polygon points="802.0,745.0 803.4,738.5 796.8,740.9" fill="#e0502a"/><use href="#slab" transform="translate(800,742.5) scale(0.67,0.7)"/><use href="#slab" transform="translate(886,672.5) scale(0.66,0.7)"/><g fill="#b8b8c8" fill-opacity="0.5" stroke="#5a5aa0" stroke-width="0.6"><polygon points="785.7,752.0 783.0,755.8 777.5,755.8 774.7,752.0 777.5,748.2 783.0,748.2"/><polygon points="795.6,752.0 792.9,755.8 787.4,755.8 784.6,752.0 787.4,748.2 792.9,748.2"/><polygon points="805.5,752.0 802.8,755.8 797.2,755.8 794.5,752.0 797.2,748.2 802.8,748.2"/><polygon points="815.4,752.0 812.6,755.8 807.1,755.8 804.4,752.0 807.1,748.2 812.6,748.2"/><polygon points="790.7,759.7 787.9,763.5 782.4,763.5 779.7,759.7 782.4,755.9 787.9,755.9"/><polygon points="800.6,759.7 797.8,763.5 792.3,763.5 789.6,759.7 792.3,755.9 797.8,755.9"/><polygon points="810.5,759.7 807.7,763.5 802.2,763.5 799.5,759.7 802.2,755.9 807.7,755.9"/><polygon points="820.4,759.7 817.6,763.5 812.1,763.5 809.4,759.7 812.1,755.9 817.6,755.9"/><polygon points="785.7,767.4 783.0,771.2 777.5,771.2 774.7,767.4 777.5,763.6 783.0,763.6"/><polygon points="795.6,767.4 792.9,771.2 787.4,771.2 784.6,767.4 787.4,763.6 792.9,763.6"/><polygon points="805.5,767.4 802.8,771.2 797.2,771.2 794.5,767.4 797.2,763.6 802.8,763.6"/><polygon points="815.4,767.4 812.6,771.2 807.1,771.2 804.4,767.4 807.1,763.6 812.6,763.6"/><polygon points="790.7,775.1 787.9,778.9 782.4,778.9 779.7,775.1 782.4,771.3 787.9,771.3"/><polygon points="800.6,775.1 797.8,778.9 792.3,778.9 789.6,775.1 792.3,771.3 797.8,771.3"/><polygon points="810.5,775.1 807.7,778.9 802.2,778.9 799.5,775.1 802.2,771.3 807.7,771.3"/><polygon points="820.4,775.1 817.6,778.9 812.1,778.9 809.4,775.1 812.1,771.3 817.6,771.3"/><polygon points="871.7,682.0 869.0,685.8 863.5,685.8 860.7,682.0 863.5,678.2 869.0,678.2"/><polygon points="881.6,682.0 878.9,685.8 873.4,685.8 870.6,682.0 873.4,678.2 878.9,678.2"/><polygon points="891.5,682.0 888.8,685.8 883.2,685.8 880.5,682.0 883.2,678.2 888.8,678.2"/><polygon points="901.4,682.0 898.6,685.8 893.1,685.8 890.4,682.0 893.1,678.2 898.6,678.2"/><polygon points="876.7,689.7 873.9,693.5 868.4,693.5 865.7,689.7 868.4,685.9 873.9,685.9"/><polygon points="886.6,689.7 883.8,693.5 878.3,693.5 875.6,689.7 878.3,685.9 883.8,685.9"/><polygon points="896.5,689.7 893.7,693.5 888.2,693.5 885.5,689.7 888.2,685.9 893.7,685.9"/><polygon points="906.4,689.7 903.6,693.5 898.1,693.5 895.4,689.7 898.1,685.9 903.6,685.9"/><polygon points="871.7,697.4 869.0,701.2 863.5,701.2 860.7,697.4 863.5,693.6 869.0,693.6"/><polygon points="881.6,697.4 878.9,701.2 873.4,701.2 870.6,697.4 873.4,693.6 878.9,693.6"/><polygon points="891.5,697.4 888.8,701.2 883.2,701.2 880.5,697.4 883.2,693.6 888.8,693.6"/><polygon points="901.4,697.4 898.6,701.2 893.1,701.2 890.4,697.4 893.1,693.6 898.6,693.6"/><polygon points="876.7,705.1 873.9,708.9 868.4,708.9 865.7,705.1 868.4,701.3 873.9,701.3"/><polygon points="886.6,705.1 883.8,708.9 878.3,708.9 875.6,705.1 878.3,701.3 883.8,701.3"/><polygon points="896.5,705.1 893.7,708.9 888.2,708.9 885.5,705.1 888.2,701.3 893.7,701.3"/><polygon points="906.4,705.1 903.6,708.9 898.1,708.9 895.4,705.1 898.1,701.3 903.6,701.3"/></g><g fill="none" stroke="#2a3a9a" stroke-width="1.8"><path d="M789,760 C780,752 790,745 786,736 C783,730 785,726 788,724"/><path d="M806,770 C812,760 800,752 808,745 C812,741 810,736 811,733"/><path d="M820,752 C828,744 820,735 825,726 C827,720 824,716 826,713"/><path d="M875,690 C868,678 872,668 880,664 C886,662 886,676 884,684"/><path d="M892,700 C886,690 888,680 898,676 C904,674 904,688 902,696"/><path d="M912,682 C905,668 908,656 918,652 C925,650 924,666 920,674"/></g><circle cx="880" cy="668" r="3.2" fill="url(#gBall)"/><circle cx="879" cy="675" r="3.2" fill="url(#gBall)"/><circle cx="883" cy="681" r="3.2" fill="url(#gBall)"/><circle cx="897" cy="680" r="3.2" fill="url(#gBall)"/><circle cx="897" cy="687" r="3.2" fill="url(#gBall)"/><circle cx="900" cy="693" r="3.2" fill="url(#gBall)"/><circle cx="917" cy="657" r="3.2" fill="url(#gBall)"/><circle cx="916" cy="664" r="3.2" fill="url(#gBall)"/><circle cx="920" cy="670" r="3.2" fill="url(#gBall)"/><polygon points="786.0,727.5 786.9,730.4 789.9,729.8 787.8,732.0 789.9,734.2 786.9,733.6 786.0,736.5 785.1,733.6 782.1,734.2 784.2,732.0 782.1,729.8 785.1,730.4" fill="#f8e010"/><polygon points="810.0,735.5 810.9,738.4 813.9,737.8 811.8,740.0 813.9,742.2 810.9,741.6 810.0,744.5 809.1,741.6 806.1,742.2 808.2,740.0 806.1,737.8 809.1,738.4" fill="#f8e010"/><polygon points="823.0,713.5 823.9,716.4 826.9,715.8 824.8,718.0 826.9,720.2 823.9,719.6 823.0,722.5 822.1,719.6 819.1,720.2 821.2,718.0 819.1,715.8 822.1,716.4" fill="#f8e010"/><polygon points="881.0,675.5 881.9,678.4 884.9,677.8 882.8,680.0 884.9,682.2 881.9,681.6 881.0,684.5 880.1,681.6 877.1,682.2 879.2,680.0 877.1,677.8 880.1,678.4" fill="#f8e010"/><polygon points="900.0,684.5 900.9,687.4 903.9,686.8 901.8,689.0 903.9,691.2 900.9,690.6 900.0,693.5 899.1,690.6 896.1,691.2 898.2,689.0 896.1,686.8 899.1,687.4" fill="#f8e010"/><polygon points="922.0,667.5 922.9,670.4 925.9,669.8 923.8,672.0 925.9,674.2 922.9,673.6 922.0,676.5 921.1,673.6 918.1,674.2 920.2,672.0 918.1,669.8 921.1,670.4" fill="#f8e010"/><path d="M896,664 C898,650 894,640 886,633" fill="none" stroke="#d4252a" stroke-width="1.8"/><polygon points="882.0,630.0 884.6,636.1 888.6,630.3" fill="#d4252a"/><path d="M857,755 C866,750 874,742 877,731" fill="none" stroke="#1a2a90" stroke-width="2"/><polygon points="879.0,726.0 873.3,730.4 880.5,733.0" fill="#1a2a90"/></g>

<!-- ===== FOOD SAFETY ARROW ===== -->
<g>
 <g filter="url(#blur7)" opacity="0.65" fill="#808080"><text x="602" y="285" class="b" font-size="29" text-anchor="middle">Food safety</text><text x="601" y="320" class="b" font-size="29" text-anchor="middle">monitoring</text></g>
 <polygon points="592,240 657,284 622,284 622,327 563,327 563,284 527,284" fill="url(#gArrow)" filter="url(#blur6)" opacity="0.7"/>
 <polygon points="592,240 657,284 622,284 622,327 563,327 563,284 527,284" fill="url(#gArrow)"/>
 <g filter="url(#blur3)" fill="#fff" stroke="#fff" stroke-width="3" opacity="0.7"><text x="592.5" y="276.6" class="b" font-size="29" text-anchor="middle">Food safety</text><text x="591.8" y="311" class="b" font-size="29" text-anchor="middle">monitoring</text></g>
 <text x="592.5" y="276.6" class="b" font-size="29" text-anchor="middle" fill="#111">Food safety</text>
 <text x="591.8" y="311" class="b" font-size="29" text-anchor="middle" fill="#111">monitoring</text>
</g>

<!-- ===== HEPTAGON ===== -->
<g>
 <polygon points="596,335 741.6,405.1 777.5,562.6 676.8,689.2 515.2,689.2 414.5,562.6 450.4,405.1" fill="#f2ec40" stroke="#f2ec40" stroke-width="34" stroke-linejoin="round" filter="url(#blur10)"/>
 <polygon points="596,335 741.6,405.1 777.5,562.6 676.8,689.2 515.2,689.2 414.5,562.6 450.4,405.1" fill="#f8f270" stroke="#f8f270" stroke-width="13" stroke-linejoin="round" filter="url(#blur4)"/>
 <polygon points="596,335 741.6,405.1 777.5,562.6 676.8,689.2 515.2,689.2 414.5,562.6 450.4,405.1" fill="url(#gHept)" stroke="url(#gHeptBorder)" stroke-width="6.2"/>
 <text x="600.2" y="400" class="b" font-size="29" text-anchor="middle" fill="#f09a2a">Microfluidic</text>
 <text x="600.4" y="435" class="b" font-size="29" text-anchor="middle" fill="#f09a2a">device</text>
 <g id="chip"><g clip-path="url(#clipHept)"><polygon points="419,561.5 642,436 780,514 782,530 555,660 420,570" fill="#9a9a9a"/><polygon points="554,653.8 780,514 782,530 555,660" fill="#b4b4b4"/><polygon points="419,561.5 554,653.8 555,660 420,570" fill="#a0a0a0"/><polygon points="419,561.5 642,436 780,514 554,653.8" fill="#c8c8c8"/><polygon points="423,566 526,507 658.4,585.2 556.3,645.1" fill="url(#gChipGreen)"/><polygon points="536.6,500.5 640.7,441.5 777,519 673,578" fill="url(#gChipGray)"/><polygon points="603.2,546.1 603.7,496.7 593.3,496.5 592.8,545.9" fill="#d6d6d6" stroke="#9a9a9a" stroke-width="0.8"/><polygon points="601.7,549.7 659.9,492.2 652.5,484.8 594.3,542.3" fill="#d6d6d6" stroke="#9a9a9a" stroke-width="0.8"/><polygon points="599.8,550.9 692.3,516.2 688.7,506.4 596.2,541.1" fill="#d6d6d6" stroke="#9a9a9a" stroke-width="0.8"/><polygon points="598.2,551.2 682.5,548.5 682.1,538.1 597.8,540.8" fill="#d6d6d6" stroke="#9a9a9a" stroke-width="0.8"/><polygon points="598.5,540.8 521.4,533.8 520.4,544.2 597.5,551.2" fill="#d6d6d6" stroke="#9a9a9a" stroke-width="0.8"/><polygon points="596.4,541.0 509.5,568.3 512.7,578.3 599.6,551.0" fill="#d6d6d6" stroke="#9a9a9a" stroke-width="0.8"/><polygon points="594.5,542.2 543.5,589.1 550.5,596.7 601.5,549.8" fill="#d6d6d6" stroke="#9a9a9a" stroke-width="0.8"/><polygon points="592.9,546.8 599.6,588.8 609.8,587.2 603.1,545.2" fill="#d6d6d6" stroke="#9a9a9a" stroke-width="0.8"/><ellipse cx="598" cy="546" rx="33" ry="16.5" fill="#e8e8e8"/><ellipse cx="594.5" cy="493.6" rx="21" ry="13" fill="#a8a8a8"/><ellipse cx="598.5" cy="496.6" rx="21.5" ry="13.2" fill="#d2d2d4"/><ellipse cx="598.5" cy="496.6" rx="15" ry="9" fill="#e8e8ea"/><ellipse cx="598.5" cy="496.6" rx="10.7" ry="6.5" fill="url(#gResR)"/><ellipse cx="652.2" cy="485.5" rx="21" ry="13" fill="#a8a8a8"/><ellipse cx="656.2" cy="488.5" rx="21.5" ry="13.2" fill="#d2d2d4"/><ellipse cx="656.2" cy="488.5" rx="12" ry="7.5" fill="#f2f2f2" stroke="#b8b8b8" stroke-width="1.2"/><ellipse cx="686.5" cy="508.3" rx="21" ry="13" fill="#a8a8a8"/><ellipse cx="690.5" cy="511.3" rx="21.5" ry="13.2" fill="#d2d2d4"/><ellipse cx="690.5" cy="511.3" rx="15" ry="9" fill="#e8e8ea"/><ellipse cx="690.5" cy="511.3" rx="10.7" ry="6.5" fill="url(#gResR)"/><ellipse cx="678.3" cy="540.3" rx="21" ry="13" fill="#a8a8a8"/><ellipse cx="682.3" cy="543.3" rx="21.5" ry="13.2" fill="#d2d2d4"/><ellipse cx="682.3" cy="543.3" rx="15" ry="9" fill="#e8e8ea"/><ellipse cx="682.3" cy="543.3" rx="10.7" ry="6.5" fill="url(#gResR)"/><ellipse cx="516.9" cy="536" rx="21" ry="13" fill="#a8a8a8"/><ellipse cx="520.9" cy="539" rx="21.5" ry="13.2" fill="#d2d2d4"/><ellipse cx="520.9" cy="539" rx="12" ry="7.5" fill="#f2f2f2" stroke="#b8b8b8" stroke-width="1.2"/><ellipse cx="506.5" cy="570" rx="21" ry="13" fill="#b0b0b0"/><ellipse cx="511.5" cy="575.5" rx="21.2" ry="13.2" fill="#b8a818"/><ellipse cx="511.5" cy="574" rx="21.2" ry="13.2" fill="#dcd030"/><ellipse cx="511.5" cy="573" rx="13" ry="8" fill="#e8dc40"/><ellipse cx="512.5" cy="572.5" rx="10" ry="6.5" fill="url(#gResY)"/><ellipse cx="541" cy="589.6" rx="21" ry="13" fill="#b0b0b0"/><ellipse cx="546" cy="595.1" rx="21.2" ry="13.2" fill="#b8a818"/><ellipse cx="546" cy="593.6" rx="21.2" ry="13.2" fill="#dcd030"/><ellipse cx="546" cy="592.6" rx="13" ry="8" fill="#e8dc40"/><ellipse cx="547" cy="592.1" rx="10" ry="6.5" fill="url(#gResY)"/><ellipse cx="599.7" cy="584" rx="21" ry="13" fill="#b0b0b0"/><ellipse cx="604.7" cy="589.5" rx="21.2" ry="13.2" fill="#b8a818"/><ellipse cx="604.7" cy="588" rx="21.2" ry="13.2" fill="#dcd030"/><ellipse cx="604.7" cy="587" rx="13" ry="8" fill="#e8dc40"/><ellipse cx="605.7" cy="586.5" rx="10" ry="6.5" fill="url(#gResY)"/></g></g>
</g>

</svg>
</body></html>
